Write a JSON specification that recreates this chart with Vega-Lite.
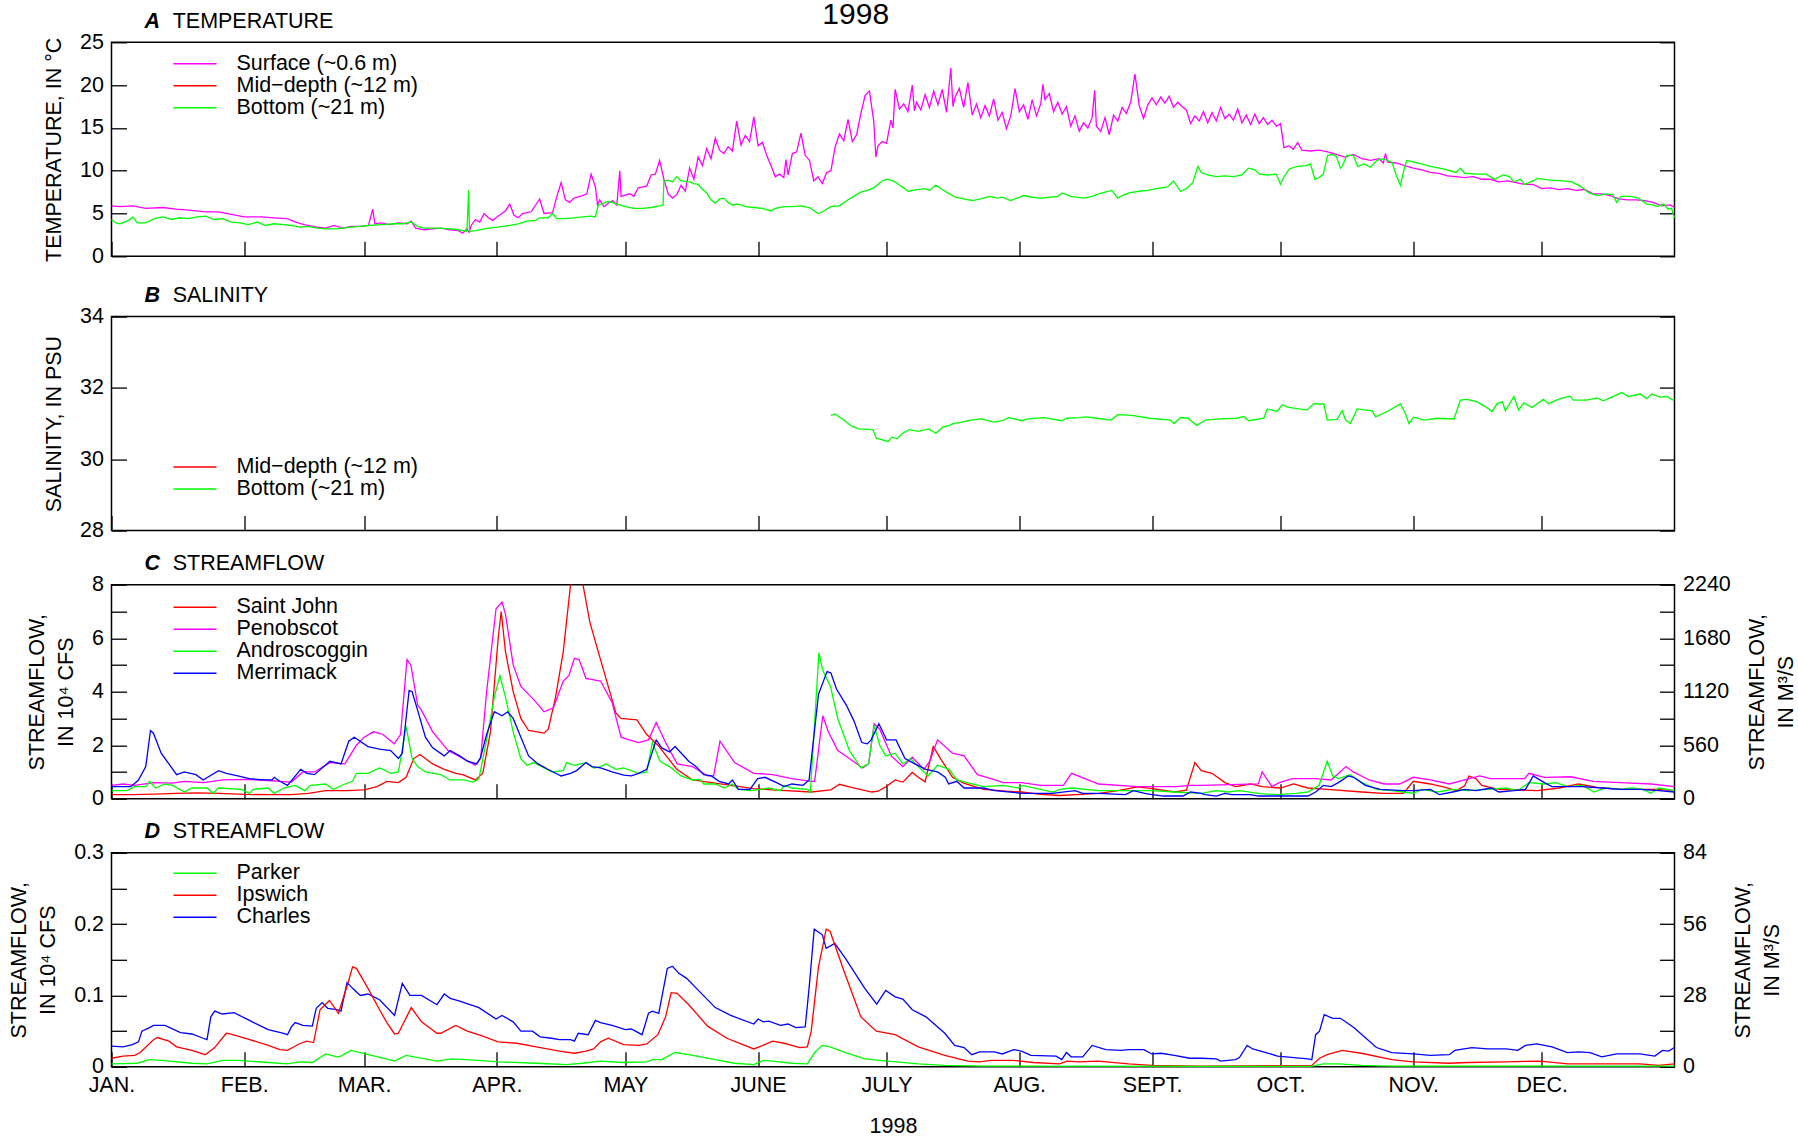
{
"$schema": "https://vega.github.io/schema/vega-lite/v6.json",
"autosize": {"type": "pad"},
"padding": {"left": 7.5, "top": -0.7, "right": 5, "bottom": 0},
"background": "white",
"title": {"text": "1998", "fontSize": 30, "fontWeight": "normal", "fontStyle": "normal", "anchor": "middle", "frame": "bounds", "offset": -19.6, "dx": -47, "subtitle": ""},
"spacing": 15.3,
"resolve": {"scale": {"color": "independent"}, "legend": {"color": "independent"}},
"datasets": {
"temp": [
{"s":"Surface (~0.6 m)","d":0,"v":5.9},{"s":"Surface (~0.6 m)","d":2,"v":5.8},{"s":"Surface (~0.6 m)","d":5,"v":5.9},{"s":"Surface (~0.6 m)","d":8,"v":5.6},{"s":"Surface (~0.6 m)","d":12,"v":5.7},{"s":"Surface (~0.6 m)","d":15,"v":5.5},{"s":"Surface (~0.6 m)","d":18,"v":5.4},{"s":"Surface (~0.6 m)","d":22,"v":5.2},{"s":"Surface (~0.6 m)","d":25,"v":5.2},{"s":"Surface (~0.6 m)","d":28,"v":4.9},{"s":"Surface (~0.6 m)","d":31,"v":4.6},{"s":"Surface (~0.6 m)","d":35,"v":4.6},{"s":"Surface (~0.6 m)","d":38,"v":4.5},{"s":"Surface (~0.6 m)","d":41,"v":4.4},{"s":"Surface (~0.6 m)","d":43,"v":4.0},{"s":"Surface (~0.6 m)","d":45,"v":3.7},{"s":"Surface (~0.6 m)","d":48,"v":3.4},{"s":"Surface (~0.6 m)","d":50,"v":3.3},{"s":"Surface (~0.6 m)","d":52,"v":3.6},{"s":"Surface (~0.6 m)","d":54,"v":3.3},{"s":"Surface (~0.6 m)","d":56,"v":3.5},{"s":"Surface (~0.6 m)","d":58,"v":3.5},{"s":"Surface (~0.6 m)","d":60,"v":3.6},{"s":"Surface (~0.6 m)","d":61,"v":5.5},{"s":"Surface (~0.6 m)","d":61.5,"v":3.8},{"s":"Surface (~0.6 m)","d":63,"v":3.9},{"s":"Surface (~0.6 m)","d":65,"v":3.7},{"s":"Surface (~0.6 m)","d":67,"v":3.9},{"s":"Surface (~0.6 m)","d":69,"v":3.8},{"s":"Surface (~0.6 m)","d":70,"v":4.1},{"s":"Surface (~0.6 m)","d":71,"v":3.3},{"s":"Surface (~0.6 m)","d":73,"v":3.1},{"s":"Surface (~0.6 m)","d":75,"v":3.2},{"s":"Surface (~0.6 m)","d":77,"v":3.3},{"s":"Surface (~0.6 m)","d":79,"v":3.1},{"s":"Surface (~0.6 m)","d":81,"v":3.0},{"s":"Surface (~0.6 m)","d":82,"v":2.7},{"s":"Surface (~0.6 m)","d":83,"v":3.2},{"s":"Surface (~0.6 m)","d":83.5,"v":2.8},{"s":"Surface (~0.6 m)","d":84,"v":3.6},{"s":"Surface (~0.6 m)","d":85,"v":4.3},{"s":"Surface (~0.6 m)","d":86,"v":4.0},{"s":"Surface (~0.6 m)","d":87,"v":5.0},{"s":"Surface (~0.6 m)","d":88,"v":4.5},{"s":"Surface (~0.6 m)","d":89,"v":4.2},{"s":"Surface (~0.6 m)","d":90,"v":4.6},{"s":"Surface (~0.6 m)","d":92,"v":5.3},{"s":"Surface (~0.6 m)","d":93,"v":6.1},{"s":"Surface (~0.6 m)","d":94,"v":4.8},{"s":"Surface (~0.6 m)","d":95,"v":4.5},{"s":"Surface (~0.6 m)","d":96,"v":5.0},{"s":"Surface (~0.6 m)","d":98,"v":5.2},{"s":"Surface (~0.6 m)","d":100,"v":6.7},{"s":"Surface (~0.6 m)","d":101,"v":5.0},{"s":"Surface (~0.6 m)","d":103,"v":5.1},{"s":"Surface (~0.6 m)","d":104,"v":7.0},{"s":"Surface (~0.6 m)","d":105,"v":8.6},{"s":"Surface (~0.6 m)","d":106,"v":6.6},{"s":"Surface (~0.6 m)","d":107,"v":6.3},{"s":"Surface (~0.6 m)","d":108,"v":6.8},{"s":"Surface (~0.6 m)","d":110,"v":7.1},{"s":"Surface (~0.6 m)","d":111,"v":7.3},{"s":"Surface (~0.6 m)","d":112,"v":9.6},{"s":"Surface (~0.6 m)","d":113,"v":8.1},{"s":"Surface (~0.6 m)","d":113.5,"v":6.0},{"s":"Surface (~0.6 m)","d":114,"v":6.6},{"s":"Surface (~0.6 m)","d":115,"v":5.8},{"s":"Surface (~0.6 m)","d":116,"v":6.2},{"s":"Surface (~0.6 m)","d":117,"v":6.5},{"s":"Surface (~0.6 m)","d":118,"v":6.0},{"s":"Surface (~0.6 m)","d":118.7,"v":10.0},{"s":"Surface (~0.6 m)","d":119,"v":7.0},{"s":"Surface (~0.6 m)","d":121,"v":7.3},{"s":"Surface (~0.6 m)","d":122,"v":7.0},{"s":"Surface (~0.6 m)","d":123,"v":8.0},{"s":"Surface (~0.6 m)","d":125,"v":8.2},{"s":"Surface (~0.6 m)","d":126,"v":9.5},{"s":"Surface (~0.6 m)","d":127,"v":9.6},{"s":"Surface (~0.6 m)","d":128,"v":11.2},{"s":"Surface (~0.6 m)","d":129,"v":9.0},{"s":"Surface (~0.6 m)","d":130,"v":7.3},{"s":"Surface (~0.6 m)","d":131,"v":6.8},{"s":"Surface (~0.6 m)","d":132,"v":7.2},{"s":"Surface (~0.6 m)","d":133,"v":8.3},{"s":"Surface (~0.6 m)","d":134,"v":7.6},{"s":"Surface (~0.6 m)","d":135,"v":10.3},{"s":"Surface (~0.6 m)","d":136,"v":9.0},{"s":"Surface (~0.6 m)","d":137,"v":11.6},{"s":"Surface (~0.6 m)","d":138,"v":10.6},{"s":"Surface (~0.6 m)","d":139,"v":12.6},{"s":"Surface (~0.6 m)","d":140,"v":11.4},{"s":"Surface (~0.6 m)","d":141,"v":13.8},{"s":"Surface (~0.6 m)","d":142,"v":12.4},{"s":"Surface (~0.6 m)","d":143,"v":12.0},{"s":"Surface (~0.6 m)","d":144,"v":12.8},{"s":"Surface (~0.6 m)","d":145,"v":12.3},{"s":"Surface (~0.6 m)","d":146,"v":15.8},{"s":"Surface (~0.6 m)","d":147,"v":13.0},{"s":"Surface (~0.6 m)","d":148,"v":14.1},{"s":"Surface (~0.6 m)","d":149,"v":13.4},{"s":"Surface (~0.6 m)","d":150,"v":16.3},{"s":"Surface (~0.6 m)","d":151,"v":12.9},{"s":"Surface (~0.6 m)","d":152,"v":13.3},{"s":"Surface (~0.6 m)","d":153,"v":11.8},{"s":"Surface (~0.6 m)","d":154,"v":10.6},{"s":"Surface (~0.6 m)","d":155,"v":9.3},{"s":"Surface (~0.6 m)","d":156,"v":9.6},{"s":"Surface (~0.6 m)","d":157,"v":9.2},{"s":"Surface (~0.6 m)","d":157.5,"v":11.3},{"s":"Surface (~0.6 m)","d":158,"v":9.5},{"s":"Surface (~0.6 m)","d":159,"v":12.0},{"s":"Surface (~0.6 m)","d":160,"v":12.2},{"s":"Surface (~0.6 m)","d":161,"v":14.4},{"s":"Surface (~0.6 m)","d":162,"v":11.8},{"s":"Surface (~0.6 m)","d":163,"v":11.2},{"s":"Surface (~0.6 m)","d":164,"v":8.8},{"s":"Surface (~0.6 m)","d":165,"v":9.3},{"s":"Surface (~0.6 m)","d":166,"v":8.5},{"s":"Surface (~0.6 m)","d":167,"v":9.8},{"s":"Surface (~0.6 m)","d":168,"v":10.0},{"s":"Surface (~0.6 m)","d":169,"v":12.8},{"s":"Surface (~0.6 m)","d":170,"v":14.3},{"s":"Surface (~0.6 m)","d":171,"v":13.5},{"s":"Surface (~0.6 m)","d":172,"v":16.0},{"s":"Surface (~0.6 m)","d":173,"v":13.4},{"s":"Surface (~0.6 m)","d":174,"v":14.2},{"s":"Surface (~0.6 m)","d":175,"v":16.7},{"s":"Surface (~0.6 m)","d":176,"v":18.8},{"s":"Surface (~0.6 m)","d":177,"v":19.3},{"s":"Surface (~0.6 m)","d":178,"v":15.8},{"s":"Surface (~0.6 m)","d":178.5,"v":11.6},{"s":"Surface (~0.6 m)","d":179,"v":12.9},{"s":"Surface (~0.6 m)","d":180,"v":13.4},{"s":"Surface (~0.6 m)","d":181,"v":13.2},{"s":"Surface (~0.6 m)","d":182,"v":15.9},{"s":"Surface (~0.6 m)","d":182.5,"v":15.0},{"s":"Surface (~0.6 m)","d":183,"v":19.5},{"s":"Surface (~0.6 m)","d":184,"v":17.2},{"s":"Surface (~0.6 m)","d":185,"v":17.8},{"s":"Surface (~0.6 m)","d":186,"v":16.9},{"s":"Surface (~0.6 m)","d":187,"v":20.0},{"s":"Surface (~0.6 m)","d":187.5,"v":17.0},{"s":"Surface (~0.6 m)","d":188,"v":18.0},{"s":"Surface (~0.6 m)","d":189,"v":17.1},{"s":"Surface (~0.6 m)","d":190,"v":18.9},{"s":"Surface (~0.6 m)","d":191,"v":17.4},{"s":"Surface (~0.6 m)","d":192,"v":19.3},{"s":"Surface (~0.6 m)","d":193,"v":17.7},{"s":"Surface (~0.6 m)","d":194,"v":19.5},{"s":"Surface (~0.6 m)","d":195,"v":16.8},{"s":"Surface (~0.6 m)","d":196,"v":22.0},{"s":"Surface (~0.6 m)","d":196.5,"v":17.5},{"s":"Surface (~0.6 m)","d":197,"v":18.6},{"s":"Surface (~0.6 m)","d":198,"v":19.6},{"s":"Surface (~0.6 m)","d":199,"v":17.4},{"s":"Surface (~0.6 m)","d":200,"v":20.3},{"s":"Surface (~0.6 m)","d":201,"v":16.5},{"s":"Surface (~0.6 m)","d":202,"v":17.8},{"s":"Surface (~0.6 m)","d":203,"v":16.2},{"s":"Surface (~0.6 m)","d":204,"v":17.6},{"s":"Surface (~0.6 m)","d":205,"v":16.4},{"s":"Surface (~0.6 m)","d":206,"v":18.4},{"s":"Surface (~0.6 m)","d":207,"v":15.9},{"s":"Surface (~0.6 m)","d":208,"v":16.8},{"s":"Surface (~0.6 m)","d":209,"v":14.9},{"s":"Surface (~0.6 m)","d":210,"v":16.4},{"s":"Surface (~0.6 m)","d":211,"v":19.6},{"s":"Surface (~0.6 m)","d":212,"v":16.9},{"s":"Surface (~0.6 m)","d":213,"v":17.7},{"s":"Surface (~0.6 m)","d":214,"v":16.0},{"s":"Surface (~0.6 m)","d":215,"v":18.3},{"s":"Surface (~0.6 m)","d":216,"v":16.4},{"s":"Surface (~0.6 m)","d":217,"v":17.8},{"s":"Surface (~0.6 m)","d":217.5,"v":20.1},{"s":"Surface (~0.6 m)","d":218,"v":18.3},{"s":"Surface (~0.6 m)","d":219,"v":19.0},{"s":"Surface (~0.6 m)","d":220,"v":16.9},{"s":"Surface (~0.6 m)","d":221,"v":18.0},{"s":"Surface (~0.6 m)","d":222,"v":16.6},{"s":"Surface (~0.6 m)","d":223,"v":17.5},{"s":"Surface (~0.6 m)","d":224,"v":15.2},{"s":"Surface (~0.6 m)","d":225,"v":16.4},{"s":"Surface (~0.6 m)","d":226,"v":14.6},{"s":"Surface (~0.6 m)","d":227,"v":15.6},{"s":"Surface (~0.6 m)","d":228,"v":15.0},{"s":"Surface (~0.6 m)","d":229,"v":16.2},{"s":"Surface (~0.6 m)","d":229.6,"v":19.4},{"s":"Surface (~0.6 m)","d":230,"v":15.2},{"s":"Surface (~0.6 m)","d":231,"v":14.6},{"s":"Surface (~0.6 m)","d":232,"v":16.2},{"s":"Surface (~0.6 m)","d":233,"v":14.2},{"s":"Surface (~0.6 m)","d":234,"v":16.5},{"s":"Surface (~0.6 m)","d":235,"v":15.8},{"s":"Surface (~0.6 m)","d":236,"v":17.4},{"s":"Surface (~0.6 m)","d":237,"v":16.7},{"s":"Surface (~0.6 m)","d":238,"v":18.0},{"s":"Surface (~0.6 m)","d":239,"v":21.3},{"s":"Surface (~0.6 m)","d":240,"v":17.6},{"s":"Surface (~0.6 m)","d":241,"v":16.1},{"s":"Surface (~0.6 m)","d":242,"v":17.7},{"s":"Surface (~0.6 m)","d":243,"v":18.5},{"s":"Surface (~0.6 m)","d":244,"v":17.7},{"s":"Surface (~0.6 m)","d":245,"v":18.6},{"s":"Surface (~0.6 m)","d":246,"v":17.9},{"s":"Surface (~0.6 m)","d":247,"v":18.7},{"s":"Surface (~0.6 m)","d":248,"v":17.4},{"s":"Surface (~0.6 m)","d":249,"v":18.0},{"s":"Surface (~0.6 m)","d":250,"v":17.5},{"s":"Surface (~0.6 m)","d":251,"v":17.1},{"s":"Surface (~0.6 m)","d":252,"v":15.5},{"s":"Surface (~0.6 m)","d":253,"v":16.4},{"s":"Surface (~0.6 m)","d":254,"v":15.8},{"s":"Surface (~0.6 m)","d":255,"v":16.9},{"s":"Surface (~0.6 m)","d":256,"v":15.6},{"s":"Surface (~0.6 m)","d":257,"v":16.8},{"s":"Surface (~0.6 m)","d":258,"v":15.8},{"s":"Surface (~0.6 m)","d":259,"v":17.4},{"s":"Surface (~0.6 m)","d":260,"v":16.1},{"s":"Surface (~0.6 m)","d":261,"v":16.6},{"s":"Surface (~0.6 m)","d":262,"v":15.9},{"s":"Surface (~0.6 m)","d":263,"v":17.2},{"s":"Surface (~0.6 m)","d":264,"v":15.6},{"s":"Surface (~0.6 m)","d":265,"v":16.5},{"s":"Surface (~0.6 m)","d":266,"v":15.4},{"s":"Surface (~0.6 m)","d":267,"v":16.6},{"s":"Surface (~0.6 m)","d":268,"v":15.5},{"s":"Surface (~0.6 m)","d":269,"v":16.2},{"s":"Surface (~0.6 m)","d":270,"v":15.4},{"s":"Surface (~0.6 m)","d":271,"v":15.9},{"s":"Surface (~0.6 m)","d":272,"v":15.2},{"s":"Surface (~0.6 m)","d":273,"v":15.5},{"s":"Surface (~0.6 m)","d":273.8,"v":12.7},{"s":"Surface (~0.6 m)","d":275,"v":12.9},{"s":"Surface (~0.6 m)","d":276,"v":12.5},{"s":"Surface (~0.6 m)","d":277,"v":13.3},{"s":"Surface (~0.6 m)","d":278,"v":12.4},{"s":"Surface (~0.6 m)","d":280,"v":12.3},{"s":"Surface (~0.6 m)","d":282,"v":12.4},{"s":"Surface (~0.6 m)","d":284,"v":12.2},{"s":"Surface (~0.6 m)","d":286,"v":11.9},{"s":"Surface (~0.6 m)","d":288,"v":11.6},{"s":"Surface (~0.6 m)","d":290,"v":11.9},{"s":"Surface (~0.6 m)","d":292,"v":11.4},{"s":"Surface (~0.6 m)","d":294,"v":11.2},{"s":"Surface (~0.6 m)","d":296,"v":11.4},{"s":"Surface (~0.6 m)","d":297,"v":10.9},{"s":"Surface (~0.6 m)","d":297.5,"v":12.0},{"s":"Surface (~0.6 m)","d":298,"v":11.0},{"s":"Surface (~0.6 m)","d":300,"v":10.9},{"s":"Surface (~0.6 m)","d":302,"v":10.6},{"s":"Surface (~0.6 m)","d":304,"v":10.3},{"s":"Surface (~0.6 m)","d":306,"v":10.1},{"s":"Surface (~0.6 m)","d":308,"v":9.8},{"s":"Surface (~0.6 m)","d":310,"v":9.7},{"s":"Surface (~0.6 m)","d":312,"v":9.4},{"s":"Surface (~0.6 m)","d":314,"v":9.3},{"s":"Surface (~0.6 m)","d":316,"v":9.2},{"s":"Surface (~0.6 m)","d":318,"v":9.3},{"s":"Surface (~0.6 m)","d":320,"v":9.0},{"s":"Surface (~0.6 m)","d":322,"v":9.0},{"s":"Surface (~0.6 m)","d":324,"v":8.7},{"s":"Surface (~0.6 m)","d":326,"v":8.8},{"s":"Surface (~0.6 m)","d":328,"v":8.6},{"s":"Surface (~0.6 m)","d":330,"v":8.4},{"s":"Surface (~0.6 m)","d":332,"v":8.4},{"s":"Surface (~0.6 m)","d":334,"v":7.9},{"s":"Surface (~0.6 m)","d":336,"v":8.0},{"s":"Surface (~0.6 m)","d":338,"v":7.8},{"s":"Surface (~0.6 m)","d":340,"v":7.9},{"s":"Surface (~0.6 m)","d":342,"v":7.7},{"s":"Surface (~0.6 m)","d":344,"v":7.8},{"s":"Surface (~0.6 m)","d":346,"v":7.3},{"s":"Surface (~0.6 m)","d":348,"v":7.3},{"s":"Surface (~0.6 m)","d":350,"v":7.1},{"s":"Surface (~0.6 m)","d":352,"v":6.7},{"s":"Surface (~0.6 m)","d":354,"v":6.6},{"s":"Surface (~0.6 m)","d":356,"v":6.6},{"s":"Surface (~0.6 m)","d":358,"v":6.5},{"s":"Surface (~0.6 m)","d":360,"v":6.3},{"s":"Surface (~0.6 m)","d":362,"v":5.9},{"s":"Surface (~0.6 m)","d":364,"v":6.0},{"s":"Surface (~0.6 m)","d":365,"v":5.7},
{"s":"Bottom (~21 m)","d":0,"v":4.3},{"s":"Bottom (~21 m)","d":1,"v":3.9},{"s":"Bottom (~21 m)","d":2,"v":3.8},{"s":"Bottom (~21 m)","d":4,"v":4.2},{"s":"Bottom (~21 m)","d":5,"v":4.6},{"s":"Bottom (~21 m)","d":6,"v":3.9},{"s":"Bottom (~21 m)","d":8,"v":3.9},{"s":"Bottom (~21 m)","d":10,"v":4.4},{"s":"Bottom (~21 m)","d":12,"v":4.6},{"s":"Bottom (~21 m)","d":14,"v":4.3},{"s":"Bottom (~21 m)","d":16,"v":4.5},{"s":"Bottom (~21 m)","d":18,"v":4.4},{"s":"Bottom (~21 m)","d":20,"v":4.6},{"s":"Bottom (~21 m)","d":22,"v":4.7},{"s":"Bottom (~21 m)","d":24,"v":4.3},{"s":"Bottom (~21 m)","d":26,"v":4.4},{"s":"Bottom (~21 m)","d":28,"v":4.0},{"s":"Bottom (~21 m)","d":30,"v":3.9},{"s":"Bottom (~21 m)","d":32,"v":3.7},{"s":"Bottom (~21 m)","d":34,"v":4.0},{"s":"Bottom (~21 m)","d":36,"v":3.6},{"s":"Bottom (~21 m)","d":38,"v":3.8},{"s":"Bottom (~21 m)","d":40,"v":3.7},{"s":"Bottom (~21 m)","d":42,"v":3.6},{"s":"Bottom (~21 m)","d":44,"v":3.4},{"s":"Bottom (~21 m)","d":46,"v":3.5},{"s":"Bottom (~21 m)","d":48,"v":3.3},{"s":"Bottom (~21 m)","d":50,"v":3.2},{"s":"Bottom (~21 m)","d":52,"v":3.2},{"s":"Bottom (~21 m)","d":54,"v":3.3},{"s":"Bottom (~21 m)","d":56,"v":3.4},{"s":"Bottom (~21 m)","d":58,"v":3.5},{"s":"Bottom (~21 m)","d":60,"v":3.6},{"s":"Bottom (~21 m)","d":63,"v":3.7},{"s":"Bottom (~21 m)","d":66,"v":3.8},{"s":"Bottom (~21 m)","d":68,"v":3.8},{"s":"Bottom (~21 m)","d":70,"v":4.0},{"s":"Bottom (~21 m)","d":71.5,"v":3.5},{"s":"Bottom (~21 m)","d":73,"v":3.3},{"s":"Bottom (~21 m)","d":76,"v":3.3},{"s":"Bottom (~21 m)","d":79,"v":3.2},{"s":"Bottom (~21 m)","d":81,"v":3.1},{"s":"Bottom (~21 m)","d":83,"v":2.9},{"s":"Bottom (~21 m)","d":83.4,"v":7.7},{"s":"Bottom (~21 m)","d":83.6,"v":2.9},{"s":"Bottom (~21 m)","d":85,"v":3.0},{"s":"Bottom (~21 m)","d":88,"v":3.3},{"s":"Bottom (~21 m)","d":90,"v":3.4},{"s":"Bottom (~21 m)","d":93,"v":3.6},{"s":"Bottom (~21 m)","d":95,"v":3.8},{"s":"Bottom (~21 m)","d":97,"v":4.1},{"s":"Bottom (~21 m)","d":99,"v":4.2},{"s":"Bottom (~21 m)","d":100,"v":4.5},{"s":"Bottom (~21 m)","d":102,"v":4.5},{"s":"Bottom (~21 m)","d":103,"v":5.0},{"s":"Bottom (~21 m)","d":104,"v":4.4},{"s":"Bottom (~21 m)","d":106,"v":4.4},{"s":"Bottom (~21 m)","d":108,"v":4.5},{"s":"Bottom (~21 m)","d":110,"v":4.6},{"s":"Bottom (~21 m)","d":112,"v":4.7},{"s":"Bottom (~21 m)","d":113,"v":4.6},{"s":"Bottom (~21 m)","d":113.7,"v":6.0},{"s":"Bottom (~21 m)","d":115,"v":6.2},{"s":"Bottom (~21 m)","d":116,"v":6.4},{"s":"Bottom (~21 m)","d":117,"v":6.3},{"s":"Bottom (~21 m)","d":118,"v":6.1},{"s":"Bottom (~21 m)","d":120,"v":5.8},{"s":"Bottom (~21 m)","d":122,"v":5.6},{"s":"Bottom (~21 m)","d":124,"v":5.6},{"s":"Bottom (~21 m)","d":126,"v":5.7},{"s":"Bottom (~21 m)","d":128,"v":5.9},{"s":"Bottom (~21 m)","d":128.8,"v":6.0},{"s":"Bottom (~21 m)","d":129,"v":8.8},{"s":"Bottom (~21 m)","d":130,"v":8.9},{"s":"Bottom (~21 m)","d":131,"v":8.7},{"s":"Bottom (~21 m)","d":132,"v":9.3},{"s":"Bottom (~21 m)","d":133,"v":8.8},{"s":"Bottom (~21 m)","d":135,"v":8.7},{"s":"Bottom (~21 m)","d":136,"v":8.5},{"s":"Bottom (~21 m)","d":137,"v":8.4},{"s":"Bottom (~21 m)","d":138,"v":7.8},{"s":"Bottom (~21 m)","d":139,"v":7.4},{"s":"Bottom (~21 m)","d":140,"v":6.6},{"s":"Bottom (~21 m)","d":141,"v":6.2},{"s":"Bottom (~21 m)","d":142,"v":6.7},{"s":"Bottom (~21 m)","d":143,"v":6.8},{"s":"Bottom (~21 m)","d":144,"v":6.3},{"s":"Bottom (~21 m)","d":145,"v":6.0},{"s":"Bottom (~21 m)","d":146,"v":6.1},{"s":"Bottom (~21 m)","d":147,"v":6.0},{"s":"Bottom (~21 m)","d":148,"v":5.8},{"s":"Bottom (~21 m)","d":150,"v":5.7},{"s":"Bottom (~21 m)","d":152,"v":5.6},{"s":"Bottom (~21 m)","d":154,"v":5.3},{"s":"Bottom (~21 m)","d":155,"v":5.6},{"s":"Bottom (~21 m)","d":157,"v":5.8},{"s":"Bottom (~21 m)","d":159,"v":5.8},{"s":"Bottom (~21 m)","d":161,"v":5.9},{"s":"Bottom (~21 m)","d":163,"v":5.7},{"s":"Bottom (~21 m)","d":165,"v":5.0},{"s":"Bottom (~21 m)","d":166,"v":5.2},{"s":"Bottom (~21 m)","d":168,"v":5.8},{"s":"Bottom (~21 m)","d":170,"v":5.9},{"s":"Bottom (~21 m)","d":172,"v":6.6},{"s":"Bottom (~21 m)","d":174,"v":7.2},{"s":"Bottom (~21 m)","d":175,"v":7.5},{"s":"Bottom (~21 m)","d":177,"v":7.8},{"s":"Bottom (~21 m)","d":178,"v":8.0},{"s":"Bottom (~21 m)","d":180,"v":8.8},{"s":"Bottom (~21 m)","d":181,"v":9.0},{"s":"Bottom (~21 m)","d":182,"v":8.9},{"s":"Bottom (~21 m)","d":183,"v":8.7},{"s":"Bottom (~21 m)","d":184,"v":8.3},{"s":"Bottom (~21 m)","d":185,"v":8.0},{"s":"Bottom (~21 m)","d":186,"v":7.6},{"s":"Bottom (~21 m)","d":188,"v":7.8},{"s":"Bottom (~21 m)","d":190,"v":7.9},{"s":"Bottom (~21 m)","d":191,"v":7.7},{"s":"Bottom (~21 m)","d":192.5,"v":8.3},{"s":"Bottom (~21 m)","d":194,"v":7.8},{"s":"Bottom (~21 m)","d":195,"v":7.5},{"s":"Bottom (~21 m)","d":197,"v":6.9},{"s":"Bottom (~21 m)","d":199,"v":6.7},{"s":"Bottom (~21 m)","d":201,"v":6.5},{"s":"Bottom (~21 m)","d":203,"v":6.7},{"s":"Bottom (~21 m)","d":205,"v":7.0},{"s":"Bottom (~21 m)","d":207,"v":6.8},{"s":"Bottom (~21 m)","d":208,"v":6.9},{"s":"Bottom (~21 m)","d":210,"v":6.5},{"s":"Bottom (~21 m)","d":212,"v":6.9},{"s":"Bottom (~21 m)","d":213,"v":7.1},{"s":"Bottom (~21 m)","d":215,"v":6.9},{"s":"Bottom (~21 m)","d":217,"v":6.8},{"s":"Bottom (~21 m)","d":219,"v":6.9},{"s":"Bottom (~21 m)","d":221,"v":7.0},{"s":"Bottom (~21 m)","d":222,"v":7.4},{"s":"Bottom (~21 m)","d":224,"v":7.0},{"s":"Bottom (~21 m)","d":227,"v":6.8},{"s":"Bottom (~21 m)","d":229,"v":7.0},{"s":"Bottom (~21 m)","d":230.5,"v":7.3},{"s":"Bottom (~21 m)","d":232,"v":7.5},{"s":"Bottom (~21 m)","d":233.6,"v":7.7},{"s":"Bottom (~21 m)","d":235,"v":6.8},{"s":"Bottom (~21 m)","d":236,"v":7.1},{"s":"Bottom (~21 m)","d":237.6,"v":7.4},{"s":"Bottom (~21 m)","d":240,"v":7.6},{"s":"Bottom (~21 m)","d":242,"v":7.7},{"s":"Bottom (~21 m)","d":244,"v":7.9},{"s":"Bottom (~21 m)","d":246.6,"v":8.1},{"s":"Bottom (~21 m)","d":248,"v":8.8},{"s":"Bottom (~21 m)","d":249.6,"v":7.6},{"s":"Bottom (~21 m)","d":251,"v":7.9},{"s":"Bottom (~21 m)","d":252.5,"v":8.6},{"s":"Bottom (~21 m)","d":253.7,"v":10.5},{"s":"Bottom (~21 m)","d":254.5,"v":9.8},{"s":"Bottom (~21 m)","d":256,"v":9.5},{"s":"Bottom (~21 m)","d":258,"v":9.3},{"s":"Bottom (~21 m)","d":260,"v":9.4},{"s":"Bottom (~21 m)","d":262,"v":9.3},{"s":"Bottom (~21 m)","d":264,"v":9.5},{"s":"Bottom (~21 m)","d":265.5,"v":10.3},{"s":"Bottom (~21 m)","d":267,"v":10.1},{"s":"Bottom (~21 m)","d":268,"v":9.6},{"s":"Bottom (~21 m)","d":270,"v":9.5},{"s":"Bottom (~21 m)","d":272,"v":9.6},{"s":"Bottom (~21 m)","d":273,"v":8.4},{"s":"Bottom (~21 m)","d":273.5,"v":9.0},{"s":"Bottom (~21 m)","d":275,"v":10.2},{"s":"Bottom (~21 m)","d":277,"v":10.5},{"s":"Bottom (~21 m)","d":279,"v":10.6},{"s":"Bottom (~21 m)","d":280,"v":10.8},{"s":"Bottom (~21 m)","d":281,"v":9.0},{"s":"Bottom (~21 m)","d":282,"v":9.2},{"s":"Bottom (~21 m)","d":283,"v":9.6},{"s":"Bottom (~21 m)","d":284,"v":11.8},{"s":"Bottom (~21 m)","d":285,"v":11.9},{"s":"Bottom (~21 m)","d":286,"v":11.7},{"s":"Bottom (~21 m)","d":287,"v":10.3},{"s":"Bottom (~21 m)","d":287.5,"v":10.6},{"s":"Bottom (~21 m)","d":288.5,"v":11.8},{"s":"Bottom (~21 m)","d":290,"v":11.8},{"s":"Bottom (~21 m)","d":291,"v":10.5},{"s":"Bottom (~21 m)","d":292.5,"v":10.8},{"s":"Bottom (~21 m)","d":294,"v":10.4},{"s":"Bottom (~21 m)","d":295.5,"v":11.2},{"s":"Bottom (~21 m)","d":297,"v":11.4},{"s":"Bottom (~21 m)","d":299,"v":11.0},{"s":"Bottom (~21 m)","d":300,"v":9.5},{"s":"Bottom (~21 m)","d":301,"v":8.3},{"s":"Bottom (~21 m)","d":302,"v":10.5},{"s":"Bottom (~21 m)","d":302.5,"v":11.2},{"s":"Bottom (~21 m)","d":305,"v":10.9},{"s":"Bottom (~21 m)","d":308,"v":10.5},{"s":"Bottom (~21 m)","d":311,"v":10.2},{"s":"Bottom (~21 m)","d":314,"v":9.8},{"s":"Bottom (~21 m)","d":315,"v":10.3},{"s":"Bottom (~21 m)","d":316,"v":9.7},{"s":"Bottom (~21 m)","d":319,"v":9.6},{"s":"Bottom (~21 m)","d":321,"v":9.6},{"s":"Bottom (~21 m)","d":323,"v":9.0},{"s":"Bottom (~21 m)","d":325,"v":9.5},{"s":"Bottom (~21 m)","d":326.5,"v":9.3},{"s":"Bottom (~21 m)","d":327.5,"v":8.7},{"s":"Bottom (~21 m)","d":329,"v":9.0},{"s":"Bottom (~21 m)","d":330,"v":8.4},{"s":"Bottom (~21 m)","d":332,"v":8.8},{"s":"Bottom (~21 m)","d":333,"v":9.1},{"s":"Bottom (~21 m)","d":336,"v":8.9},{"s":"Bottom (~21 m)","d":339,"v":8.8},{"s":"Bottom (~21 m)","d":341,"v":8.7},{"s":"Bottom (~21 m)","d":343,"v":8.2},{"s":"Bottom (~21 m)","d":345,"v":7.4},{"s":"Bottom (~21 m)","d":347,"v":7.1},{"s":"Bottom (~21 m)","d":349,"v":7.3},{"s":"Bottom (~21 m)","d":350.6,"v":7.2},{"s":"Bottom (~21 m)","d":351.5,"v":6.3},{"s":"Bottom (~21 m)","d":352.5,"v":7.0},{"s":"Bottom (~21 m)","d":355,"v":7.0},{"s":"Bottom (~21 m)","d":356.5,"v":6.8},{"s":"Bottom (~21 m)","d":358.6,"v":6.1},{"s":"Bottom (~21 m)","d":360,"v":6.0},{"s":"Bottom (~21 m)","d":361,"v":5.8},{"s":"Bottom (~21 m)","d":362.5,"v":6.1},{"s":"Bottom (~21 m)","d":363.5,"v":5.5},{"s":"Bottom (~21 m)","d":364.3,"v":5.6},{"s":"Bottom (~21 m)","d":365,"v":4.5}
],
"sal": [
{"s":"Bottom (~21 m)","d":168,"v":31.23},{"s":"Bottom (~21 m)","d":169,"v":31.27},{"s":"Bottom (~21 m)","d":170.4,"v":31.15},{"s":"Bottom (~21 m)","d":173,"v":30.92},{"s":"Bottom (~21 m)","d":174.5,"v":30.85},{"s":"Bottom (~21 m)","d":177.8,"v":30.83},{"s":"Bottom (~21 m)","d":178.6,"v":30.59},{"s":"Bottom (~21 m)","d":181.4,"v":30.5},{"s":"Bottom (~21 m)","d":182.2,"v":30.62},{"s":"Bottom (~21 m)","d":183.5,"v":30.58},{"s":"Bottom (~21 m)","d":184.7,"v":30.73},{"s":"Bottom (~21 m)","d":186.3,"v":30.83},{"s":"Bottom (~21 m)","d":188.4,"v":30.78},{"s":"Bottom (~21 m)","d":190.8,"v":30.85},{"s":"Bottom (~21 m)","d":192.5,"v":30.73},{"s":"Bottom (~21 m)","d":194.1,"v":30.9},{"s":"Bottom (~21 m)","d":195.7,"v":30.95},{"s":"Bottom (~21 m)","d":196.5,"v":31.0},{"s":"Bottom (~21 m)","d":198.6,"v":31.04},{"s":"Bottom (~21 m)","d":200.6,"v":31.1},{"s":"Bottom (~21 m)","d":203.1,"v":31.13},{"s":"Bottom (~21 m)","d":206,"v":31.04},{"s":"Bottom (~21 m)","d":208,"v":31.08},{"s":"Bottom (~21 m)","d":209.6,"v":31.17},{"s":"Bottom (~21 m)","d":212.5,"v":31.08},{"s":"Bottom (~21 m)","d":214.1,"v":31.13},{"s":"Bottom (~21 m)","d":217.8,"v":31.17},{"s":"Bottom (~21 m)","d":221.9,"v":31.08},{"s":"Bottom (~21 m)","d":223.1,"v":31.15},{"s":"Bottom (~21 m)","d":226,"v":31.17},{"s":"Bottom (~21 m)","d":227.6,"v":31.19},{"s":"Bottom (~21 m)","d":230.1,"v":31.15},{"s":"Bottom (~21 m)","d":233.4,"v":31.1},{"s":"Bottom (~21 m)","d":235,"v":31.25},{"s":"Bottom (~21 m)","d":238.3,"v":31.23},{"s":"Bottom (~21 m)","d":242.4,"v":31.15},{"s":"Bottom (~21 m)","d":247.3,"v":31.1},{"s":"Bottom (~21 m)","d":248.1,"v":31.0},{"s":"Bottom (~21 m)","d":249.7,"v":31.17},{"s":"Bottom (~21 m)","d":251.4,"v":31.15},{"s":"Bottom (~21 m)","d":253.4,"v":30.95},{"s":"Bottom (~21 m)","d":255.5,"v":31.1},{"s":"Bottom (~21 m)","d":258.8,"v":31.13},{"s":"Bottom (~21 m)","d":262.8,"v":31.15},{"s":"Bottom (~21 m)","d":264.4,"v":31.2},{"s":"Bottom (~21 m)","d":265.6,"v":31.08},{"s":"Bottom (~21 m)","d":269.1,"v":31.15},{"s":"Bottom (~21 m)","d":269.9,"v":31.41},{"s":"Bottom (~21 m)","d":272.2,"v":31.34},{"s":"Bottom (~21 m)","d":273.4,"v":31.53},{"s":"Bottom (~21 m)","d":274.6,"v":31.46},{"s":"Bottom (~21 m)","d":279.2,"v":31.38},{"s":"Bottom (~21 m)","d":280.8,"v":31.56},{"s":"Bottom (~21 m)","d":283.1,"v":31.55},{"s":"Bottom (~21 m)","d":283.9,"v":31.1},{"s":"Bottom (~21 m)","d":286.2,"v":31.12},{"s":"Bottom (~21 m)","d":287.4,"v":31.36},{"s":"Bottom (~21 m)","d":288.2,"v":31.1},{"s":"Bottom (~21 m)","d":289.3,"v":31.0},{"s":"Bottom (~21 m)","d":290.9,"v":31.41},{"s":"Bottom (~21 m)","d":294.4,"v":31.36},{"s":"Bottom (~21 m)","d":295.2,"v":31.19},{"s":"Bottom (~21 m)","d":297.9,"v":31.34},{"s":"Bottom (~21 m)","d":301,"v":31.55},{"s":"Bottom (~21 m)","d":302.2,"v":31.27},{"s":"Bottom (~21 m)","d":303,"v":31.0},{"s":"Bottom (~21 m)","d":304.1,"v":31.18},{"s":"Bottom (~21 m)","d":306.5,"v":31.1},{"s":"Bottom (~21 m)","d":309.6,"v":31.15},{"s":"Bottom (~21 m)","d":313.5,"v":31.13},{"s":"Bottom (~21 m)","d":315,"v":31.66},{"s":"Bottom (~21 m)","d":316.6,"v":31.68},{"s":"Bottom (~21 m)","d":318.9,"v":31.61},{"s":"Bottom (~21 m)","d":320.9,"v":31.47},{"s":"Bottom (~21 m)","d":322.4,"v":31.34},{"s":"Bottom (~21 m)","d":323.6,"v":31.56},{"s":"Bottom (~21 m)","d":324.8,"v":31.61},{"s":"Bottom (~21 m)","d":325.5,"v":31.36},{"s":"Bottom (~21 m)","d":327.5,"v":31.76},{"s":"Bottom (~21 m)","d":328.6,"v":31.38},{"s":"Bottom (~21 m)","d":329.8,"v":31.58},{"s":"Bottom (~21 m)","d":331.7,"v":31.45},{"s":"Bottom (~21 m)","d":334.4,"v":31.68},{"s":"Bottom (~21 m)","d":335.6,"v":31.56},{"s":"Bottom (~21 m)","d":338.3,"v":31.7},{"s":"Bottom (~21 m)","d":340.6,"v":31.77},{"s":"Bottom (~21 m)","d":341.4,"v":31.66},{"s":"Bottom (~21 m)","d":344.5,"v":31.66},{"s":"Bottom (~21 m)","d":346.9,"v":31.72},{"s":"Bottom (~21 m)","d":348.4,"v":31.64},{"s":"Bottom (~21 m)","d":352.7,"v":31.87},{"s":"Bottom (~21 m)","d":354.2,"v":31.76},{"s":"Bottom (~21 m)","d":357,"v":31.83},{"s":"Bottom (~21 m)","d":358.5,"v":31.7},{"s":"Bottom (~21 m)","d":359.7,"v":31.83},{"s":"Bottom (~21 m)","d":361.6,"v":31.74},{"s":"Bottom (~21 m)","d":363.2,"v":31.76},{"s":"Bottom (~21 m)","d":364.7,"v":31.66}
],
"flowC": [
{"s":"Saint John","d":0,"v":0.15},{"s":"Saint John","d":5,"v":0.15},{"s":"Saint John","d":10,"v":0.17},{"s":"Saint John","d":15,"v":0.2},{"s":"Saint John","d":20,"v":0.22},{"s":"Saint John","d":25,"v":0.2},{"s":"Saint John","d":31,"v":0.16},{"s":"Saint John","d":37,"v":0.15},{"s":"Saint John","d":42,"v":0.15},{"s":"Saint John","d":46,"v":0.2},{"s":"Saint John","d":50,"v":0.3},{"s":"Saint John","d":55,"v":0.3},{"s":"Saint John","d":59,"v":0.33},{"s":"Saint John","d":62,"v":0.45},{"s":"Saint John","d":64.3,"v":0.65},{"s":"Saint John","d":67,"v":0.6},{"s":"Saint John","d":68.8,"v":0.8},{"s":"Saint John","d":70.6,"v":1.5},{"s":"Saint John","d":72,"v":1.65},{"s":"Saint John","d":73.3,"v":1.5},{"s":"Saint John","d":75,"v":1.3},{"s":"Saint John","d":77.7,"v":1.1},{"s":"Saint John","d":80.4,"v":0.95},{"s":"Saint John","d":82,"v":0.9},{"s":"Saint John","d":85,"v":0.7},{"s":"Saint John","d":86.7,"v":0.95},{"s":"Saint John","d":88.5,"v":2.5},{"s":"Saint John","d":90.3,"v":6.0},{"s":"Saint John","d":91,"v":7.0},{"s":"Saint John","d":92,"v":5.5},{"s":"Saint John","d":93.8,"v":4.0},{"s":"Saint John","d":95.6,"v":3.0},{"s":"Saint John","d":97.4,"v":2.55},{"s":"Saint John","d":101,"v":2.45},{"s":"Saint John","d":102,"v":2.6},{"s":"Saint John","d":103.7,"v":3.8},{"s":"Saint John","d":105.5,"v":5.5},{"s":"Saint John","d":107.2,"v":8.0},{"s":"Saint John","d":108.3,"v":9.2},{"s":"Saint John","d":109.2,"v":9.0},{"s":"Saint John","d":110.1,"v":8.0},{"s":"Saint John","d":111.7,"v":6.6},{"s":"Saint John","d":114.2,"v":5.2},{"s":"Saint John","d":116,"v":4.2},{"s":"Saint John","d":117.8,"v":3.2},{"s":"Saint John","d":119,"v":3.0},{"s":"Saint John","d":122.7,"v":2.95},{"s":"Saint John","d":125,"v":2.4},{"s":"Saint John","d":127.6,"v":2.0},{"s":"Saint John","d":132,"v":1.1},{"s":"Saint John","d":135.7,"v":0.7},{"s":"Saint John","d":141,"v":0.58},{"s":"Saint John","d":145.5,"v":0.48},{"s":"Saint John","d":150,"v":0.38},{"s":"Saint John","d":154.4,"v":0.33},{"s":"Saint John","d":163.4,"v":0.25},{"s":"Saint John","d":168,"v":0.33},{"s":"Saint John","d":170,"v":0.54},{"s":"Saint John","d":173,"v":0.41},{"s":"Saint John","d":177.6,"v":0.25},{"s":"Saint John","d":179,"v":0.28},{"s":"Saint John","d":180.8,"v":0.44},{"s":"Saint John","d":183,"v":0.7},{"s":"Saint John","d":184.8,"v":0.62},{"s":"Saint John","d":187,"v":0.98},{"s":"Saint John","d":188.4,"v":0.8},{"s":"Saint John","d":190,"v":0.63},{"s":"Saint John","d":191.9,"v":1.95},{"s":"Saint John","d":193.7,"v":1.47},{"s":"Saint John","d":196.4,"v":0.8},{"s":"Saint John","d":199,"v":0.58},{"s":"Saint John","d":203.6,"v":0.35},{"s":"Saint John","d":209,"v":0.28},{"s":"Saint John","d":212.5,"v":0.25},{"s":"Saint John","d":217,"v":0.16},{"s":"Saint John","d":221.4,"v":0.12},{"s":"Saint John","d":230.6,"v":0.2},{"s":"Saint John","d":235,"v":0.3},{"s":"Saint John","d":239.6,"v":0.44},{"s":"Saint John","d":243,"v":0.38},{"s":"Saint John","d":248.3,"v":0.25},{"s":"Saint John","d":251,"v":0.32},{"s":"Saint John","d":253,"v":1.35},{"s":"Saint John","d":254.5,"v":1.05},{"s":"Saint John","d":257,"v":0.95},{"s":"Saint John","d":260,"v":0.6},{"s":"Saint John","d":262.5,"v":0.45},{"s":"Saint John","d":266,"v":0.55},{"s":"Saint John","d":268.7,"v":0.45},{"s":"Saint John","d":273,"v":0.4},{"s":"Saint John","d":276,"v":0.55},{"s":"Saint John","d":279.4,"v":0.4},{"s":"Saint John","d":284,"v":0.35},{"s":"Saint John","d":292,"v":0.25},{"s":"Saint John","d":297,"v":0.2},{"s":"Saint John","d":301.7,"v":0.2},{"s":"Saint John","d":304,"v":0.65},{"s":"Saint John","d":308,"v":0.55},{"s":"Saint John","d":311.5,"v":0.42},{"s":"Saint John","d":314,"v":0.3},{"s":"Saint John","d":316,"v":0.48},{"s":"Saint John","d":317,"v":0.85},{"s":"Saint John","d":318.6,"v":0.75},{"s":"Saint John","d":320,"v":0.5},{"s":"Saint John","d":324,"v":0.35},{"s":"Saint John","d":333,"v":0.3},{"s":"Saint John","d":338,"v":0.4},{"s":"Saint John","d":342.6,"v":0.55},{"s":"Saint John","d":347,"v":0.42},{"s":"Saint John","d":352.4,"v":0.35},{"s":"Saint John","d":361,"v":0.35},{"s":"Saint John","d":365,"v":0.3},
{"s":"Penobscot","d":0,"v":0.5},{"s":"Penobscot","d":2.7,"v":0.55},{"s":"Penobscot","d":5.4,"v":0.5},{"s":"Penobscot","d":9.8,"v":0.6},{"s":"Penobscot","d":14.3,"v":0.58},{"s":"Penobscot","d":17,"v":0.65},{"s":"Penobscot","d":21.5,"v":0.6},{"s":"Penobscot","d":26,"v":0.7},{"s":"Penobscot","d":31.3,"v":0.72},{"s":"Penobscot","d":36.6,"v":0.68},{"s":"Penobscot","d":42,"v":0.62},{"s":"Penobscot","d":44.7,"v":1.0},{"s":"Penobscot","d":47.4,"v":1.0},{"s":"Penobscot","d":51,"v":1.35},{"s":"Penobscot","d":54.5,"v":1.3},{"s":"Penobscot","d":57.2,"v":2.0},{"s":"Penobscot","d":59,"v":2.3},{"s":"Penobscot","d":61.2,"v":2.5},{"s":"Penobscot","d":63.4,"v":2.4},{"s":"Penobscot","d":66,"v":2.05},{"s":"Penobscot","d":67.5,"v":2.4},{"s":"Penobscot","d":69,"v":5.2},{"s":"Penobscot","d":69.9,"v":5.0},{"s":"Penobscot","d":71.5,"v":3.5},{"s":"Penobscot","d":72.4,"v":3.3},{"s":"Penobscot","d":75,"v":2.5},{"s":"Penobscot","d":78.6,"v":1.8},{"s":"Penobscot","d":82.2,"v":1.5},{"s":"Penobscot","d":84.9,"v":1.25},{"s":"Penobscot","d":86.2,"v":1.5},{"s":"Penobscot","d":87.6,"v":4.0},{"s":"Penobscot","d":89.8,"v":7.1},{"s":"Penobscot","d":91.2,"v":7.35},{"s":"Penobscot","d":92,"v":6.9},{"s":"Penobscot","d":93.8,"v":5.0},{"s":"Penobscot","d":95.6,"v":4.2},{"s":"Penobscot","d":97.4,"v":3.9},{"s":"Penobscot","d":99.2,"v":3.6},{"s":"Penobscot","d":101,"v":3.25},{"s":"Penobscot","d":103.2,"v":3.4},{"s":"Penobscot","d":105.5,"v":4.4},{"s":"Penobscot","d":106.8,"v":4.6},{"s":"Penobscot","d":108.1,"v":5.25},{"s":"Penobscot","d":109.2,"v":5.2},{"s":"Penobscot","d":110.8,"v":4.5},{"s":"Penobscot","d":114.2,"v":4.4},{"s":"Penobscot","d":116.9,"v":3.6},{"s":"Penobscot","d":119,"v":2.3},{"s":"Penobscot","d":120.9,"v":2.2},{"s":"Penobscot","d":123.1,"v":2.1},{"s":"Penobscot","d":125.4,"v":2.2},{"s":"Penobscot","d":127.2,"v":2.85},{"s":"Penobscot","d":129.4,"v":2.1},{"s":"Penobscot","d":132.1,"v":1.3},{"s":"Penobscot","d":135.7,"v":1.2},{"s":"Penobscot","d":139.2,"v":0.85},{"s":"Penobscot","d":140.6,"v":0.85},{"s":"Penobscot","d":142.1,"v":2.15},{"s":"Penobscot","d":145.5,"v":1.35},{"s":"Penobscot","d":150,"v":0.95},{"s":"Penobscot","d":154.4,"v":0.9},{"s":"Penobscot","d":158.9,"v":0.75},{"s":"Penobscot","d":163.4,"v":0.65},{"s":"Penobscot","d":164.2,"v":0.65},{"s":"Penobscot","d":166.1,"v":3.1},{"s":"Penobscot","d":167.4,"v":2.5},{"s":"Penobscot","d":169.6,"v":1.8},{"s":"Penobscot","d":172.3,"v":1.5},{"s":"Penobscot","d":175.4,"v":1.15},{"s":"Penobscot","d":176.8,"v":1.3},{"s":"Penobscot","d":178.1,"v":2.8},{"s":"Penobscot","d":179.4,"v":2.6},{"s":"Penobscot","d":182.1,"v":1.6},{"s":"Penobscot","d":184.8,"v":1.2},{"s":"Penobscot","d":187,"v":1.55},{"s":"Penobscot","d":189.7,"v":1.1},{"s":"Penobscot","d":191.1,"v":1.4},{"s":"Penobscot","d":192.9,"v":2.2},{"s":"Penobscot","d":196.4,"v":1.7},{"s":"Penobscot","d":199.1,"v":1.6},{"s":"Penobscot","d":202.2,"v":0.9},{"s":"Penobscot","d":205.4,"v":0.75},{"s":"Penobscot","d":208.2,"v":0.6},{"s":"Penobscot","d":212.5,"v":0.6},{"s":"Penobscot","d":217,"v":0.5},{"s":"Penobscot","d":222.3,"v":0.5},{"s":"Penobscot","d":224.2,"v":0.95},{"s":"Penobscot","d":230.5,"v":0.55},{"s":"Penobscot","d":239.5,"v":0.45},{"s":"Penobscot","d":248.5,"v":0.45},{"s":"Penobscot","d":252,"v":0.5},{"s":"Penobscot","d":254.5,"v":0.5},{"s":"Penobscot","d":267.8,"v":0.55},{"s":"Penobscot","d":268.7,"v":1.0},{"s":"Penobscot","d":271,"v":0.45},{"s":"Penobscot","d":272.7,"v":0.6},{"s":"Penobscot","d":275.8,"v":0.75},{"s":"Penobscot","d":281.2,"v":0.75},{"s":"Penobscot","d":284.8,"v":0.7},{"s":"Penobscot","d":288.3,"v":1.2},{"s":"Penobscot","d":290,"v":1.0},{"s":"Penobscot","d":293.7,"v":0.7},{"s":"Penobscot","d":297.2,"v":0.55},{"s":"Penobscot","d":300.8,"v":0.55},{"s":"Penobscot","d":304,"v":0.8},{"s":"Penobscot","d":308,"v":0.7},{"s":"Penobscot","d":312.4,"v":0.55},{"s":"Penobscot","d":316,"v":0.7},{"s":"Penobscot","d":319.5,"v":0.85},{"s":"Penobscot","d":322,"v":0.75},{"s":"Penobscot","d":330,"v":0.75},{"s":"Penobscot","d":331,"v":0.95},{"s":"Penobscot","d":334.6,"v":0.8},{"s":"Penobscot","d":340.8,"v":0.82},{"s":"Penobscot","d":346,"v":0.65},{"s":"Penobscot","d":352.4,"v":0.6},{"s":"Penobscot","d":359.6,"v":0.55},{"s":"Penobscot","d":365,"v":0.45},
{"s":"Androscoggin","d":0,"v":0.3},{"s":"Androscoggin","d":3.6,"v":0.3},{"s":"Androscoggin","d":5.4,"v":0.45},{"s":"Androscoggin","d":8,"v":0.45},{"s":"Androscoggin","d":8.9,"v":0.65},{"s":"Androscoggin","d":10.3,"v":0.4},{"s":"Androscoggin","d":12.5,"v":0.55},{"s":"Androscoggin","d":14.3,"v":0.5},{"s":"Androscoggin","d":17,"v":0.25},{"s":"Androscoggin","d":18.8,"v":0.4},{"s":"Androscoggin","d":22.3,"v":0.4},{"s":"Androscoggin","d":23.7,"v":0.2},{"s":"Androscoggin","d":25,"v":0.4},{"s":"Androscoggin","d":30.4,"v":0.35},{"s":"Androscoggin","d":32.2,"v":0.2},{"s":"Androscoggin","d":33.1,"v":0.35},{"s":"Androscoggin","d":36.6,"v":0.4},{"s":"Androscoggin","d":38,"v":0.2},{"s":"Androscoggin","d":40.2,"v":0.4},{"s":"Androscoggin","d":42.9,"v":0.5},{"s":"Androscoggin","d":45.1,"v":0.3},{"s":"Androscoggin","d":46.5,"v":0.5},{"s":"Androscoggin","d":50,"v":0.55},{"s":"Androscoggin","d":51.8,"v":0.35},{"s":"Androscoggin","d":54.5,"v":0.55},{"s":"Androscoggin","d":56.3,"v":0.65},{"s":"Androscoggin","d":57.2,"v":0.95},{"s":"Androscoggin","d":59.9,"v":0.95},{"s":"Androscoggin","d":62.6,"v":1.15},{"s":"Androscoggin","d":63.4,"v":1.1},{"s":"Androscoggin","d":65.2,"v":0.95},{"s":"Androscoggin","d":67,"v":1.0},{"s":"Androscoggin","d":68.8,"v":2.7},{"s":"Androscoggin","d":70.2,"v":1.5},{"s":"Androscoggin","d":71.5,"v":1.2},{"s":"Androscoggin","d":73.3,"v":1.0},{"s":"Androscoggin","d":76.9,"v":0.9},{"s":"Androscoggin","d":79.1,"v":0.7},{"s":"Androscoggin","d":82.2,"v":0.7},{"s":"Androscoggin","d":84.5,"v":0.62},{"s":"Androscoggin","d":85.8,"v":0.75},{"s":"Androscoggin","d":87.6,"v":2.2},{"s":"Androscoggin","d":89.4,"v":3.8},{"s":"Androscoggin","d":90.7,"v":4.6},{"s":"Androscoggin","d":92,"v":3.8},{"s":"Androscoggin","d":93.8,"v":2.5},{"s":"Androscoggin","d":95.6,"v":1.5},{"s":"Androscoggin","d":97,"v":1.25},{"s":"Androscoggin","d":98.7,"v":1.35},{"s":"Androscoggin","d":101,"v":1.15},{"s":"Androscoggin","d":102.8,"v":1.0},{"s":"Androscoggin","d":105.5,"v":1.05},{"s":"Androscoggin","d":106.3,"v":1.35},{"s":"Androscoggin","d":108.1,"v":1.25},{"s":"Androscoggin","d":110.8,"v":1.35},{"s":"Androscoggin","d":112.6,"v":1.15},{"s":"Androscoggin","d":114.2,"v":1.2},{"s":"Androscoggin","d":115.5,"v":1.3},{"s":"Androscoggin","d":117.8,"v":1.1},{"s":"Androscoggin","d":119.6,"v":1.15},{"s":"Androscoggin","d":123.1,"v":0.95},{"s":"Androscoggin","d":125,"v":1.0},{"s":"Androscoggin","d":126.3,"v":2.1},{"s":"Androscoggin","d":128.1,"v":1.4},{"s":"Androscoggin","d":130.3,"v":1.2},{"s":"Androscoggin","d":133,"v":0.85},{"s":"Androscoggin","d":135.7,"v":0.7},{"s":"Androscoggin","d":137.4,"v":0.72},{"s":"Androscoggin","d":138.3,"v":0.55},{"s":"Androscoggin","d":141,"v":0.55},{"s":"Androscoggin","d":143.2,"v":0.4},{"s":"Androscoggin","d":145,"v":0.55},{"s":"Androscoggin","d":146.4,"v":0.35},{"s":"Androscoggin","d":149.1,"v":0.3},{"s":"Androscoggin","d":151.7,"v":0.35},{"s":"Androscoggin","d":153.5,"v":0.4},{"s":"Androscoggin","d":156.2,"v":0.3},{"s":"Androscoggin","d":157.1,"v":0.5},{"s":"Androscoggin","d":158.9,"v":0.4},{"s":"Androscoggin","d":162.5,"v":0.35},{"s":"Androscoggin","d":163.2,"v":0.25},{"s":"Androscoggin","d":165.2,"v":5.45},{"s":"Androscoggin","d":166.1,"v":4.8},{"s":"Androscoggin","d":167.9,"v":4.2},{"s":"Androscoggin","d":169.6,"v":3.0},{"s":"Androscoggin","d":172.3,"v":1.8},{"s":"Androscoggin","d":175,"v":1.15},{"s":"Androscoggin","d":176.8,"v":1.3},{"s":"Androscoggin","d":178.1,"v":2.75},{"s":"Androscoggin","d":179.4,"v":2.0},{"s":"Androscoggin","d":180.8,"v":1.6},{"s":"Androscoggin","d":183,"v":1.7},{"s":"Androscoggin","d":184.8,"v":1.3},{"s":"Androscoggin","d":186.6,"v":1.5},{"s":"Androscoggin","d":188.4,"v":1.2},{"s":"Androscoggin","d":190.7,"v":0.85},{"s":"Androscoggin","d":192.9,"v":1.25},{"s":"Androscoggin","d":195.6,"v":1.1},{"s":"Androscoggin","d":197.4,"v":0.7},{"s":"Androscoggin","d":201,"v":0.55},{"s":"Androscoggin","d":203.6,"v":0.45},{"s":"Androscoggin","d":208.2,"v":0.5},{"s":"Androscoggin","d":211.8,"v":0.4},{"s":"Androscoggin","d":212.7,"v":0.5},{"s":"Androscoggin","d":219.8,"v":0.25},{"s":"Androscoggin","d":221.5,"v":0.35},{"s":"Androscoggin","d":224.2,"v":0.4},{"s":"Androscoggin","d":230.5,"v":0.3},{"s":"Androscoggin","d":239.5,"v":0.3},{"s":"Androscoggin","d":243,"v":0.3},{"s":"Androscoggin","d":248.3,"v":0.25},{"s":"Androscoggin","d":254.5,"v":0.2},{"s":"Androscoggin","d":258,"v":0.3},{"s":"Androscoggin","d":260.7,"v":0.25},{"s":"Androscoggin","d":263.4,"v":0.3},{"s":"Androscoggin","d":267.8,"v":0.2},{"s":"Androscoggin","d":272.3,"v":0.15},{"s":"Androscoggin","d":276.7,"v":0.2},{"s":"Androscoggin","d":279.4,"v":0.25},{"s":"Androscoggin","d":282,"v":0.5},{"s":"Androscoggin","d":283.9,"v":1.4},{"s":"Androscoggin","d":285.2,"v":0.85},{"s":"Androscoggin","d":286.5,"v":0.75},{"s":"Androscoggin","d":289.2,"v":0.9},{"s":"Androscoggin","d":292,"v":0.6},{"s":"Androscoggin","d":295.4,"v":0.35},{"s":"Androscoggin","d":299,"v":0.3},{"s":"Androscoggin","d":301.7,"v":0.25},{"s":"Androscoggin","d":304,"v":0.2},{"s":"Androscoggin","d":306,"v":0.35},{"s":"Androscoggin","d":309.7,"v":0.25},{"s":"Androscoggin","d":313.2,"v":0.35},{"s":"Androscoggin","d":316.8,"v":0.3},{"s":"Androscoggin","d":321.3,"v":0.35},{"s":"Androscoggin","d":325.7,"v":0.4},{"s":"Androscoggin","d":328.4,"v":0.3},{"s":"Androscoggin","d":331,"v":0.6},{"s":"Androscoggin","d":334.6,"v":0.55},{"s":"Androscoggin","d":337.3,"v":0.6},{"s":"Androscoggin","d":340,"v":0.45},{"s":"Androscoggin","d":343.5,"v":0.5},{"s":"Androscoggin","d":346.2,"v":0.25},{"s":"Androscoggin","d":348.9,"v":0.4},{"s":"Androscoggin","d":352.4,"v":0.35},{"s":"Androscoggin","d":355,"v":0.4},{"s":"Androscoggin","d":357.7,"v":0.35},{"s":"Androscoggin","d":359.5,"v":0.2},{"s":"Androscoggin","d":361.3,"v":0.4},{"s":"Androscoggin","d":365,"v":0.3},
{"s":"Merrimack","d":0,"v":0.45},{"s":"Merrimack","d":4.5,"v":0.45},{"s":"Merrimack","d":6.3,"v":0.7},{"s":"Merrimack","d":8,"v":1.2},{"s":"Merrimack","d":9.1,"v":2.55},{"s":"Merrimack","d":9.8,"v":2.45},{"s":"Merrimack","d":11.6,"v":1.7},{"s":"Merrimack","d":13.4,"v":1.3},{"s":"Merrimack","d":15.2,"v":0.9},{"s":"Merrimack","d":17,"v":1.0},{"s":"Merrimack","d":19.7,"v":0.9},{"s":"Merrimack","d":21.4,"v":0.7},{"s":"Merrimack","d":25,"v":1.05},{"s":"Merrimack","d":26.8,"v":0.95},{"s":"Merrimack","d":29.5,"v":0.85},{"s":"Merrimack","d":32.2,"v":0.75},{"s":"Merrimack","d":35.7,"v":0.7},{"s":"Merrimack","d":37.5,"v":0.7},{"s":"Merrimack","d":38,"v":0.8},{"s":"Merrimack","d":39.3,"v":0.65},{"s":"Merrimack","d":41.1,"v":0.5},{"s":"Merrimack","d":42.4,"v":0.75},{"s":"Merrimack","d":44.2,"v":1.1},{"s":"Merrimack","d":45.6,"v":0.95},{"s":"Merrimack","d":47.4,"v":0.9},{"s":"Merrimack","d":51,"v":1.4},{"s":"Merrimack","d":53.6,"v":1.3},{"s":"Merrimack","d":55.4,"v":2.15},{"s":"Merrimack","d":56.7,"v":2.3},{"s":"Merrimack","d":59.9,"v":1.95},{"s":"Merrimack","d":62.6,"v":1.85},{"s":"Merrimack","d":65.2,"v":1.8},{"s":"Merrimack","d":67,"v":1.5},{"s":"Merrimack","d":67.9,"v":1.7},{"s":"Merrimack","d":69.5,"v":4.05},{"s":"Merrimack","d":70.2,"v":4.0},{"s":"Merrimack","d":71.5,"v":3.3},{"s":"Merrimack","d":73.3,"v":2.3},{"s":"Merrimack","d":75,"v":1.9},{"s":"Merrimack","d":77.7,"v":1.6},{"s":"Merrimack","d":79.1,"v":1.8},{"s":"Merrimack","d":81.3,"v":1.6},{"s":"Merrimack","d":83.1,"v":1.4},{"s":"Merrimack","d":85.3,"v":1.3},{"s":"Merrimack","d":86.2,"v":1.55},{"s":"Merrimack","d":87.6,"v":2.4},{"s":"Merrimack","d":89.4,"v":3.25},{"s":"Merrimack","d":91.2,"v":3.1},{"s":"Merrimack","d":92.5,"v":3.25},{"s":"Merrimack","d":93.8,"v":3.0},{"s":"Merrimack","d":95.6,"v":2.3},{"s":"Merrimack","d":97.4,"v":1.6},{"s":"Merrimack","d":99.6,"v":1.3},{"s":"Merrimack","d":101.9,"v":1.1},{"s":"Merrimack","d":105,"v":0.85},{"s":"Merrimack","d":107.2,"v":0.95},{"s":"Merrimack","d":108.6,"v":1.05},{"s":"Merrimack","d":110.8,"v":1.35},{"s":"Merrimack","d":112.2,"v":1.2},{"s":"Merrimack","d":114.2,"v":1.15},{"s":"Merrimack","d":116.9,"v":1.0},{"s":"Merrimack","d":119.6,"v":0.88},{"s":"Merrimack","d":121.4,"v":0.85},{"s":"Merrimack","d":123.1,"v":0.95},{"s":"Merrimack","d":125,"v":1.1},{"s":"Merrimack","d":127.2,"v":2.2},{"s":"Merrimack","d":128.5,"v":1.9},{"s":"Merrimack","d":130.3,"v":1.75},{"s":"Merrimack","d":131.6,"v":1.95},{"s":"Merrimack","d":134.8,"v":1.4},{"s":"Merrimack","d":136.5,"v":1.2},{"s":"Merrimack","d":138.3,"v":0.9},{"s":"Merrimack","d":140.1,"v":0.85},{"s":"Merrimack","d":141.9,"v":0.65},{"s":"Merrimack","d":144.1,"v":0.55},{"s":"Merrimack","d":145,"v":0.7},{"s":"Merrimack","d":146.4,"v":0.35},{"s":"Merrimack","d":149.1,"v":0.35},{"s":"Merrimack","d":150.9,"v":0.75},{"s":"Merrimack","d":152.6,"v":0.8},{"s":"Merrimack","d":155.3,"v":0.6},{"s":"Merrimack","d":157.1,"v":0.45},{"s":"Merrimack","d":158.9,"v":0.55},{"s":"Merrimack","d":161.5,"v":0.5},{"s":"Merrimack","d":162.9,"v":0.7},{"s":"Merrimack","d":165.1,"v":3.9},{"s":"Merrimack","d":167.1,"v":4.75},{"s":"Merrimack","d":168,"v":4.7},{"s":"Merrimack","d":169.3,"v":4.1},{"s":"Merrimack","d":171.6,"v":3.5},{"s":"Merrimack","d":173.4,"v":2.9},{"s":"Merrimack","d":175.2,"v":2.1},{"s":"Merrimack","d":176.5,"v":2.05},{"s":"Merrimack","d":177.4,"v":2.2},{"s":"Merrimack","d":179.2,"v":2.8},{"s":"Merrimack","d":181,"v":2.2},{"s":"Merrimack","d":183.2,"v":2.2},{"s":"Merrimack","d":185.3,"v":1.5},{"s":"Merrimack","d":187.6,"v":1.3},{"s":"Merrimack","d":190.2,"v":1.1},{"s":"Merrimack","d":192.9,"v":1.0},{"s":"Merrimack","d":194.7,"v":0.8},{"s":"Merrimack","d":195.5,"v":0.55},{"s":"Merrimack","d":197.4,"v":0.65},{"s":"Merrimack","d":199.1,"v":0.4},{"s":"Merrimack","d":203.6,"v":0.4},{"s":"Merrimack","d":206.3,"v":0.3},{"s":"Merrimack","d":212.6,"v":0.2},{"s":"Merrimack","d":217,"v":0.2},{"s":"Merrimack","d":219.7,"v":0.2},{"s":"Merrimack","d":225,"v":0.3},{"s":"Merrimack","d":226.8,"v":0.2},{"s":"Merrimack","d":230.5,"v":0.2},{"s":"Merrimack","d":236.8,"v":0.15},{"s":"Merrimack","d":238.6,"v":0.3},{"s":"Merrimack","d":241.3,"v":0.2},{"s":"Merrimack","d":243,"v":0.15},{"s":"Merrimack","d":245.7,"v":0.1},{"s":"Merrimack","d":250.2,"v":0.1},{"s":"Merrimack","d":252,"v":0.25},{"s":"Merrimack","d":254.5,"v":0.2},{"s":"Merrimack","d":255.4,"v":0.15},{"s":"Merrimack","d":258,"v":0.1},{"s":"Merrimack","d":260,"v":0.2},{"s":"Merrimack","d":261.6,"v":0.15},{"s":"Merrimack","d":266,"v":0.15},{"s":"Merrimack","d":267.8,"v":0.1},{"s":"Merrimack","d":272.3,"v":0.1},{"s":"Merrimack","d":279.4,"v":0.1},{"s":"Merrimack","d":281.2,"v":0.25},{"s":"Merrimack","d":283,"v":0.5},{"s":"Merrimack","d":284.8,"v":0.45},{"s":"Merrimack","d":286.5,"v":0.6},{"s":"Merrimack","d":288.8,"v":0.85},{"s":"Merrimack","d":290.1,"v":0.8},{"s":"Merrimack","d":292.8,"v":0.5},{"s":"Merrimack","d":296.3,"v":0.35},{"s":"Merrimack","d":301.7,"v":0.3},{"s":"Merrimack","d":304,"v":0.3},{"s":"Merrimack","d":308,"v":0.35},{"s":"Merrimack","d":310.1,"v":0.15},{"s":"Merrimack","d":313.2,"v":0.25},{"s":"Merrimack","d":316,"v":0.35},{"s":"Merrimack","d":318.6,"v":0.3},{"s":"Merrimack","d":322.2,"v":0.4},{"s":"Merrimack","d":324,"v":0.25},{"s":"Merrimack","d":327.5,"v":0.3},{"s":"Merrimack","d":330.2,"v":0.35},{"s":"Merrimack","d":332,"v":0.85},{"s":"Merrimack","d":334.6,"v":0.6},{"s":"Merrimack","d":336.4,"v":0.45},{"s":"Merrimack","d":340.8,"v":0.45},{"s":"Merrimack","d":343.5,"v":0.45},{"s":"Merrimack","d":348,"v":0.4},{"s":"Merrimack","d":352.4,"v":0.35},{"s":"Merrimack","d":357,"v":0.35},{"s":"Merrimack","d":361.3,"v":0.3},{"s":"Merrimack","d":365,"v":0.25}
],
"flowD": [
{"s":"Charles","d":0,"v":0.029},{"s":"Charles","d":2.7,"v":0.028},{"s":"Charles","d":4.9,"v":0.031},{"s":"Charles","d":6.3,"v":0.035},{"s":"Charles","d":7.1,"v":0.05},{"s":"Charles","d":8.9,"v":0.055},{"s":"Charles","d":9.8,"v":0.058},{"s":"Charles","d":12.5,"v":0.058},{"s":"Charles","d":16.1,"v":0.048},{"s":"Charles","d":18.8,"v":0.046},{"s":"Charles","d":21.4,"v":0.04},{"s":"Charles","d":22.3,"v":0.038},{"s":"Charles","d":23.2,"v":0.07},{"s":"Charles","d":24.1,"v":0.078},{"s":"Charles","d":25.9,"v":0.074},{"s":"Charles","d":28.6,"v":0.076},{"s":"Charles","d":32.2,"v":0.065},{"s":"Charles","d":36.6,"v":0.052},{"s":"Charles","d":40.2,"v":0.047},{"s":"Charles","d":41.1,"v":0.045},{"s":"Charles","d":42,"v":0.056},{"s":"Charles","d":42.9,"v":0.062},{"s":"Charles","d":44.7,"v":0.058},{"s":"Charles","d":46.9,"v":0.057},{"s":"Charles","d":47.8,"v":0.082},{"s":"Charles","d":49.2,"v":0.09},{"s":"Charles","d":50.5,"v":0.082},{"s":"Charles","d":52.7,"v":0.08},{"s":"Charles","d":53.6,"v":0.078},{"s":"Charles","d":55,"v":0.118},{"s":"Charles","d":56.3,"v":0.11},{"s":"Charles","d":58.1,"v":0.1},{"s":"Charles","d":59.9,"v":0.102},{"s":"Charles","d":62.6,"v":0.094},{"s":"Charles","d":66.1,"v":0.072},{"s":"Charles","d":67.9,"v":0.117},{"s":"Charles","d":69.7,"v":0.1},{"s":"Charles","d":72.4,"v":0.1},{"s":"Charles","d":76,"v":0.087},{"s":"Charles","d":77.7,"v":0.102},{"s":"Charles","d":79.1,"v":0.096},{"s":"Charles","d":81.3,"v":0.092},{"s":"Charles","d":85.8,"v":0.083},{"s":"Charles","d":89.8,"v":0.067},{"s":"Charles","d":91.2,"v":0.072},{"s":"Charles","d":93.8,"v":0.063},{"s":"Charles","d":95.6,"v":0.05},{"s":"Charles","d":98.3,"v":0.05},{"s":"Charles","d":100.1,"v":0.042},{"s":"Charles","d":102.8,"v":0.04},{"s":"Charles","d":104.6,"v":0.038},{"s":"Charles","d":107.2,"v":0.038},{"s":"Charles","d":108.1,"v":0.036},{"s":"Charles","d":109,"v":0.047},{"s":"Charles","d":111.3,"v":0.045},{"s":"Charles","d":113,"v":0.065},{"s":"Charles","d":114.2,"v":0.062},{"s":"Charles","d":116.9,"v":0.058},{"s":"Charles","d":120,"v":0.052},{"s":"Charles","d":121.4,"v":0.053},{"s":"Charles","d":123.9,"v":0.045},{"s":"Charles","d":125.4,"v":0.075},{"s":"Charles","d":126.3,"v":0.078},{"s":"Charles","d":127.8,"v":0.075},{"s":"Charles","d":129.8,"v":0.138},{"s":"Charles","d":131,"v":0.141},{"s":"Charles","d":132.5,"v":0.131},{"s":"Charles","d":134.3,"v":0.124},{"s":"Charles","d":137.4,"v":0.105},{"s":"Charles","d":141,"v":0.083},{"s":"Charles","d":144.6,"v":0.072},{"s":"Charles","d":150,"v":0.06},{"s":"Charles","d":151,"v":0.067},{"s":"Charles","d":152.2,"v":0.063},{"s":"Charles","d":153.5,"v":0.064},{"s":"Charles","d":156.2,"v":0.058},{"s":"Charles","d":158,"v":0.06},{"s":"Charles","d":159.8,"v":0.055},{"s":"Charles","d":162,"v":0.056},{"s":"Charles","d":162.9,"v":0.11},{"s":"Charles","d":164.1,"v":0.193},{"s":"Charles","d":166,"v":0.185},{"s":"Charles","d":166.9,"v":0.166},{"s":"Charles","d":168.9,"v":0.173},{"s":"Charles","d":171.4,"v":0.152},{"s":"Charles","d":175.9,"v":0.11},{"s":"Charles","d":178.7,"v":0.088},{"s":"Charles","d":180.8,"v":0.107},{"s":"Charles","d":183,"v":0.098},{"s":"Charles","d":184.8,"v":0.095},{"s":"Charles","d":187,"v":0.08},{"s":"Charles","d":190.2,"v":0.07},{"s":"Charles","d":194.6,"v":0.047},{"s":"Charles","d":196.9,"v":0.03},{"s":"Charles","d":199.1,"v":0.027},{"s":"Charles","d":200.9,"v":0.017},{"s":"Charles","d":202.7,"v":0.021},{"s":"Charles","d":206.2,"v":0.021},{"s":"Charles","d":208,"v":0.018},{"s":"Charles","d":210.7,"v":0.024},{"s":"Charles","d":212.5,"v":0.022},{"s":"Charles","d":214.7,"v":0.016},{"s":"Charles","d":220.6,"v":0.015},{"s":"Charles","d":221.9,"v":0.01},{"s":"Charles","d":223,"v":0.02},{"s":"Charles","d":224.1,"v":0.014},{"s":"Charles","d":226.8,"v":0.014},{"s":"Charles","d":229,"v":0.03},{"s":"Charles","d":232.2,"v":0.024},{"s":"Charles","d":235.7,"v":0.023},{"s":"Charles","d":237.5,"v":0.024},{"s":"Charles","d":241.1,"v":0.024},{"s":"Charles","d":242.9,"v":0.018},{"s":"Charles","d":245.1,"v":0.019},{"s":"Charles","d":248.2,"v":0.016},{"s":"Charles","d":251.8,"v":0.012},{"s":"Charles","d":254.5,"v":0.012},{"s":"Charles","d":258,"v":0.011},{"s":"Charles","d":259,"v":0.008},{"s":"Charles","d":262.5,"v":0.01},{"s":"Charles","d":263.4,"v":0.013},{"s":"Charles","d":265.2,"v":0.03},{"s":"Charles","d":266.5,"v":0.025},{"s":"Charles","d":269.6,"v":0.02},{"s":"Charles","d":272.3,"v":0.015},{"s":"Charles","d":279.4,"v":0.011},{"s":"Charles","d":280.3,"v":0.01},{"s":"Charles","d":281.2,"v":0.045},{"s":"Charles","d":282.1,"v":0.05},{"s":"Charles","d":283.2,"v":0.073},{"s":"Charles","d":285.2,"v":0.068},{"s":"Charles","d":287,"v":0.068},{"s":"Charles","d":290.1,"v":0.055},{"s":"Charles","d":295.4,"v":0.027},{"s":"Charles","d":299,"v":0.02},{"s":"Charles","d":304,"v":0.018},{"s":"Charles","d":308,"v":0.016},{"s":"Charles","d":312.4,"v":0.017},{"s":"Charles","d":313.7,"v":0.023},{"s":"Charles","d":317.7,"v":0.027},{"s":"Charles","d":321.3,"v":0.025},{"s":"Charles","d":325.7,"v":0.025},{"s":"Charles","d":328.4,"v":0.023},{"s":"Charles","d":330.2,"v":0.03},{"s":"Charles","d":332.8,"v":0.032},{"s":"Charles","d":336.4,"v":0.028},{"s":"Charles","d":340,"v":0.02},{"s":"Charles","d":342.6,"v":0.021},{"s":"Charles","d":345.3,"v":0.02},{"s":"Charles","d":348,"v":0.014},{"s":"Charles","d":351.5,"v":0.018},{"s":"Charles","d":356.9,"v":0.018},{"s":"Charles","d":360.4,"v":0.015},{"s":"Charles","d":362.2,"v":0.023},{"s":"Charles","d":363.6,"v":0.022},{"s":"Charles","d":365,"v":0.027},
{"s":"Ipswich","d":0,"v":0.012},{"s":"Ipswich","d":2.7,"v":0.015},{"s":"Ipswich","d":5.4,"v":0.016},{"s":"Ipswich","d":6.7,"v":0.02},{"s":"Ipswich","d":9.8,"v":0.038},{"s":"Ipswich","d":10.7,"v":0.041},{"s":"Ipswich","d":13.4,"v":0.036},{"s":"Ipswich","d":15.2,"v":0.028},{"s":"Ipswich","d":18.8,"v":0.023},{"s":"Ipswich","d":21.9,"v":0.017},{"s":"Ipswich","d":24.1,"v":0.027},{"s":"Ipswich","d":26.8,"v":0.047},{"s":"Ipswich","d":27.7,"v":0.046},{"s":"Ipswich","d":31.3,"v":0.04},{"s":"Ipswich","d":36.6,"v":0.03},{"s":"Ipswich","d":39.3,"v":0.024},{"s":"Ipswich","d":41.1,"v":0.023},{"s":"Ipswich","d":43.8,"v":0.032},{"s":"Ipswich","d":45.6,"v":0.036},{"s":"Ipswich","d":47.2,"v":0.034},{"s":"Ipswich","d":48.7,"v":0.08},{"s":"Ipswich","d":50.9,"v":0.093},{"s":"Ipswich","d":53,"v":0.075},{"s":"Ipswich","d":55,"v":0.113},{"s":"Ipswich","d":56.3,"v":0.14},{"s":"Ipswich","d":57.2,"v":0.138},{"s":"Ipswich","d":59.9,"v":0.11},{"s":"Ipswich","d":62.6,"v":0.08},{"s":"Ipswich","d":64.3,"v":0.062},{"s":"Ipswich","d":66.1,"v":0.046},{"s":"Ipswich","d":67,"v":0.047},{"s":"Ipswich","d":70,"v":0.083},{"s":"Ipswich","d":72.4,"v":0.063},{"s":"Ipswich","d":76,"v":0.047},{"s":"Ipswich","d":76.9,"v":0.047},{"s":"Ipswich","d":80.4,"v":0.058},{"s":"Ipswich","d":83.1,"v":0.05},{"s":"Ipswich","d":86.7,"v":0.043},{"s":"Ipswich","d":90.3,"v":0.035},{"s":"Ipswich","d":94.7,"v":0.033},{"s":"Ipswich","d":99.2,"v":0.028},{"s":"Ipswich","d":104.6,"v":0.022},{"s":"Ipswich","d":108.1,"v":0.019},{"s":"Ipswich","d":110.8,"v":0.022},{"s":"Ipswich","d":112.6,"v":0.025},{"s":"Ipswich","d":114.2,"v":0.035},{"s":"Ipswich","d":116,"v":0.04},{"s":"Ipswich","d":119.6,"v":0.031},{"s":"Ipswich","d":123.1,"v":0.03},{"s":"Ipswich","d":125,"v":0.032},{"s":"Ipswich","d":127.6,"v":0.045},{"s":"Ipswich","d":129.4,"v":0.07},{"s":"Ipswich","d":130.7,"v":0.104},{"s":"Ipswich","d":132.1,"v":0.103},{"s":"Ipswich","d":134.8,"v":0.087},{"s":"Ipswich","d":139.2,"v":0.057},{"s":"Ipswich","d":143.7,"v":0.04},{"s":"Ipswich","d":150,"v":0.025},{"s":"Ipswich","d":151.7,"v":0.029},{"s":"Ipswich","d":154.4,"v":0.036},{"s":"Ipswich","d":157.1,"v":0.033},{"s":"Ipswich","d":160.7,"v":0.027},{"s":"Ipswich","d":162.5,"v":0.028},{"s":"Ipswich","d":163.4,"v":0.05},{"s":"Ipswich","d":165.1,"v":0.14},{"s":"Ipswich","d":166.9,"v":0.193},{"s":"Ipswich","d":167.8,"v":0.19},{"s":"Ipswich","d":171,"v":0.135},{"s":"Ipswich","d":175,"v":0.07},{"s":"Ipswich","d":178.6,"v":0.05},{"s":"Ipswich","d":183,"v":0.045},{"s":"Ipswich","d":188.4,"v":0.028},{"s":"Ipswich","d":194.6,"v":0.016},{"s":"Ipswich","d":200,"v":0.008},{"s":"Ipswich","d":202.7,"v":0.007},{"s":"Ipswich","d":205.4,"v":0.009},{"s":"Ipswich","d":210.7,"v":0.009},{"s":"Ipswich","d":215.2,"v":0.006},{"s":"Ipswich","d":221.4,"v":0.004},{"s":"Ipswich","d":223.2,"v":0.008},{"s":"Ipswich","d":225.9,"v":0.007},{"s":"Ipswich","d":230.4,"v":0.008},{"s":"Ipswich","d":237.5,"v":0.004},{"s":"Ipswich","d":242.9,"v":0.002},{"s":"Ipswich","d":254.3,"v":0.001},{"s":"Ipswich","d":280.3,"v":0.002},{"s":"Ipswich","d":282.1,"v":0.012},{"s":"Ipswich","d":283.9,"v":0.017},{"s":"Ipswich","d":287.4,"v":0.023},{"s":"Ipswich","d":291.9,"v":0.019},{"s":"Ipswich","d":299,"v":0.01},{"s":"Ipswich","d":304,"v":0.007},{"s":"Ipswich","d":312.4,"v":0.005},{"s":"Ipswich","d":316.8,"v":0.006},{"s":"Ipswich","d":325.7,"v":0.007},{"s":"Ipswich","d":333.7,"v":0.008},{"s":"Ipswich","d":340,"v":0.004},{"s":"Ipswich","d":348,"v":0.004},{"s":"Ipswich","d":356.9,"v":0.004},{"s":"Ipswich","d":361.3,"v":0.002},{"s":"Ipswich","d":365,"v":0.004},
{"s":"Parker","d":0,"v":0.004},{"s":"Parker","d":6,"v":0.005},{"s":"Parker","d":8.9,"v":0.01},{"s":"Parker","d":11.6,"v":0.009},{"s":"Parker","d":18.8,"v":0.005},{"s":"Parker","d":22.3,"v":0.004},{"s":"Parker","d":26,"v":0.009},{"s":"Parker","d":29.5,"v":0.009},{"s":"Parker","d":36.6,"v":0.006},{"s":"Parker","d":41.1,"v":0.004},{"s":"Parker","d":43.8,"v":0.007},{"s":"Parker","d":46.9,"v":0.006},{"s":"Parker","d":50,"v":0.018},{"s":"Parker","d":52.7,"v":0.014},{"s":"Parker","d":53.6,"v":0.015},{"s":"Parker","d":55.9,"v":0.023},{"s":"Parker","d":58.1,"v":0.02},{"s":"Parker","d":63.4,"v":0.012},{"s":"Parker","d":66.1,"v":0.008},{"s":"Parker","d":68.8,"v":0.016},{"s":"Parker","d":76,"v":0.008},{"s":"Parker","d":79.5,"v":0.011},{"s":"Parker","d":85.8,"v":0.009},{"s":"Parker","d":90.3,"v":0.007},{"s":"Parker","d":99.2,"v":0.005},{"s":"Parker","d":106.3,"v":0.003},{"s":"Parker","d":109.9,"v":0.005},{"s":"Parker","d":114.2,"v":0.008},{"s":"Parker","d":119.6,"v":0.006},{"s":"Parker","d":125,"v":0.007},{"s":"Parker","d":126.3,"v":0.01},{"s":"Parker","d":128.5,"v":0.01},{"s":"Parker","d":131.6,"v":0.02},{"s":"Parker","d":134.8,"v":0.017},{"s":"Parker","d":141,"v":0.01},{"s":"Parker","d":145.5,"v":0.005},{"s":"Parker","d":150,"v":0.003},{"s":"Parker","d":152.2,"v":0.009},{"s":"Parker","d":154.4,"v":0.008},{"s":"Parker","d":158.9,"v":0.005},{"s":"Parker","d":162.5,"v":0.004},{"s":"Parker","d":164.2,"v":0.02},{"s":"Parker","d":166,"v":0.03},{"s":"Parker","d":167.8,"v":0.028},{"s":"Parker","d":171.4,"v":0.02},{"s":"Parker","d":175.9,"v":0.011},{"s":"Parker","d":181.2,"v":0.008},{"s":"Parker","d":188.4,"v":0.004},{"s":"Parker","d":194.6,"v":0.002},{"s":"Parker","d":203.6,"v":0.001},{"s":"Parker","d":280,"v":0.0005},{"s":"Parker","d":283,"v":0.004},{"s":"Parker","d":286.5,"v":0.004},{"s":"Parker","d":291.9,"v":0.002},{"s":"Parker","d":299,"v":0.001},{"s":"Parker","d":365,"v":0.001}
]
},
"vconcat": [
{
 "width": 1563, "height": 214,
 "title": {"text": "A", "subtitle": "\u200b\u00a0\u00a0\u00a0\u00a0\u2009TEMPERATURE"},
 "layer": [
  {"data": {"name": "temp"}, "mark": {"type": "line", "strokeWidth": 1.3},
   "encoding": {
    "x": {"field": "d", "type": "quantitative", "scale": {"domain": [0, 365], "nice": false, "zero": false}, "axis": {"values": [0,31,59,90,120,151,181,212,243,273,304,334], "labels": false, "title": null}},
    "y": {"field": "v", "type": "quantitative", "scale": {"domain": [0, 25], "nice": false}, "axis": {"values": [0,5,10,15,20,25], "title": "TEMPERATURE, IN °C"}},
    "color": {"field": "s", "type": "nominal", "scale": {"domain": ["Surface (~0.6 m)", "Mid−depth (~12 m)", "Bottom (~21 m)"], "range": ["#ff00ff", "#ff0000", "#00ff00"]}, "legend": {"title": null, "legendX": 72, "legendY": 10}}
   }},
  {"data": {"values": [{}]}, "mark": {"type": "point", "opacity": 0},
   "encoding": {"y": {"datum": 0, "type": "quantitative", "scale": {"domain": [0, 25], "nice": false}, "axis": {"orient": "right", "values": [0,5,10,15,20,25], "labels": false, "title": null}}}}
 ],
 "resolve": {"scale": {"y": "independent"}}
},
{
 "spacing": 9.1,
 "resolve": {"scale": {"color": "independent"}, "legend": {"color": "independent"}},
 "vconcat": [
 {
  "width": 1563, "height": 214,
  "title": {"text": "B", "subtitle": "\u200b\u00a0\u00a0\u00a0\u00a0\u2009SALINITY"},
  "layer": [
   {"data": {"name": "sal"}, "mark": {"type": "line", "strokeWidth": 1.3},
    "encoding": {
     "x": {"field": "d", "type": "quantitative", "scale": {"domain": [0, 365], "nice": false, "zero": false}, "axis": {"values": [0,31,59,90,120,151,181,212,243,273,304,334], "labels": false, "title": null}},
     "y": {"field": "v", "type": "quantitative", "scale": {"domain": [28, 34], "nice": false, "zero": false}, "axis": {"values": [28,30,32,34], "title": "SALINITY, IN PSU"}},
     "color": {"field": "s", "type": "nominal", "scale": {"domain": ["Mid−depth (~12 m)", "Bottom (~21 m)"], "range": ["#ff0000", "#00ff00"]}, "legend": {"title": null, "legendX": 72, "legendY": 139}}
    }},
   {"data": {"values": [{}]}, "mark": {"type": "point", "opacity": 0},
    "encoding": {"y": {"datum": 28, "type": "quantitative", "scale": {"domain": [28, 34], "nice": false, "zero": false}, "axis": {"orient": "right", "values": [28,30,32,34], "labels": false, "title": null}}}}
  ],
  "resolve": {"scale": {"y": "independent"}}
 },
 {
  "width": 1563, "height": 214,
  "title": {"text": "C", "subtitle": "\u200b\u00a0\u00a0\u00a0\u00a0\u2009STREAMFLOW"},
  "layer": [
   {"data": {"name": "flowC"}, "mark": {"type": "line", "strokeWidth": 1.3, "clip": true},
    "encoding": {
     "x": {"field": "d", "type": "quantitative", "scale": {"domain": [0, 365], "nice": false, "zero": false}, "axis": {"values": [0,31,59,90,120,151,181,212,243,273,304,334], "labels": false, "title": null}},
     "y": {"field": "v", "type": "quantitative", "scale": {"domain": [0, 8], "nice": false}, "axis": {"values": [0,1,2,3,4,5,6,7,8], "labelExpr": "datum.value % 2 == 0 ? datum.label : ''", "title": ["STREAMFLOW,", "IN 10⁴ CFS"]}},
     "color": {"field": "s", "type": "nominal", "scale": {"domain": ["Saint John", "Penobscot", "Androscoggin", "Merrimack"], "range": ["#ff0000", "#ff00ff", "#00ff00", "#0000ff"]}, "legend": {"title": null, "legendX": 72, "legendY": 11}}
    }},
   {"data": {"values": [{}]}, "mark": {"type": "point", "opacity": 0},
    "encoding": {"y": {"datum": 0, "type": "quantitative", "scale": {"domain": [0, 2240], "nice": false}, "axis": {"orient": "right", "values": [0,280,560,840,1120,1400,1680,1960,2240], "labelExpr": "datum.value % 560 == 0 ? datum.label : ''", "format": "d", "title": ["STREAMFLOW,", "IN M³/S"], "titleAngle": 270, "titlePadding": 9}}}}
  ],
  "resolve": {"scale": {"y": "independent"}}
 },
 {
  "width": 1563, "height": 214,
  "title": {"text": "D", "subtitle": "\u200b\u00a0\u00a0\u00a0\u00a0\u2009STREAMFLOW"},
  "layer": [
   {"data": {"name": "flowD"}, "mark": {"type": "line", "strokeWidth": 1.3},
    "encoding": {
     "x": {"field": "d", "type": "quantitative", "scale": {"domain": [0, 365], "nice": false, "zero": false}, "axis": {"values": [0,31,59,90,120,151,181,212,243,273,304,334], "labelExpr": "['JAN.','FEB.','MAR.','APR.','MAY','JUNE','JULY','AUG.','SEPT.','OCT.','NOV.','DEC.'][indexof([0,31,59,90,120,151,181,212,243,273,304,334], datum.value)]", "labelPadding": 22.7, "title": "1998", "titlePadding": 19.3}},
     "y": {"field": "v", "type": "quantitative", "scale": {"domain": [0, 0.3], "nice": false}, "axis": {"values": [0,0.05,0.1,0.15,0.2,0.25,0.3], "labelExpr": "round(datum.value*100) % 10 == 0 ? format(datum.value, '~g') : ''", "title": ["STREAMFLOW,", "IN 10⁴ CFS"]}},
     "color": {"field": "s", "type": "nominal", "scale": {"domain": ["Parker", "Ipswich", "Charles"], "range": ["#00ff00", "#ff0000", "#0000ff"]}, "legend": {"title": null, "legendX": 72, "legendY": 9}}
    }},
   {"data": {"values": [{}]}, "mark": {"type": "point", "opacity": 0},
    "encoding": {"y": {"datum": 0, "type": "quantitative", "scale": {"domain": [0, 84], "nice": false}, "axis": {"orient": "right", "values": [0,14,28,42,56,70,84], "labelExpr": "datum.value % 28 == 0 ? datum.label : ''", "format": "d", "title": ["STREAMFLOW,", "IN M³/S"], "titleAngle": 270, "titlePadding": 19}}}}
  ],
  "resolve": {"scale": {"y": "independent"}}
 }
 ]
}
],
"config": {
 "font": "Liberation Sans",
 "view": {"stroke": "#000000", "strokeWidth": 1.5},
 "axis": {"domain": false, "grid": false, "ticks": true, "tickColor": "#000000", "tickWidth": 1.3, "tickSize": -15, "labelPadding": 23, "labelFont": "Liberation Sans", "labelFontSize": 21.5, "labelColor": "#000000", "labelFlush": false, "labelOverlap": false, "titleFont": "Liberation Sans", "titleFontSize": 21.5, "titleFontWeight": "normal", "titleColor": "#000000", "titlePadding": 14, "titleLineHeight": 29},
 "legend": {"orient": "none", "padding": 0, "symbolType": "M-2,0H2", "symbolSize": 462, "symbolStrokeWidth": 1.5, "symbolFillColor": "transparent", "labelFont": "Liberation Sans", "labelFontSize": 21.5, "labelColor": "#000000", "labelOffset": 30, "labelLimit": 500, "rowPadding": 0, "labelBaseline": "middle"},
 "title": {"font": "Liberation Sans", "fontSize": 21.5, "fontWeight": "bold", "fontStyle": "italic", "color": "#000000", "anchor": "start", "frame": "group", "dx": 33, "offset": -1, "subtitleFont": "Liberation Sans", "subtitleFontSize": 21.5, "subtitleFontWeight": "normal", "subtitleFontStyle": "normal", "subtitleColor": "#000000", "subtitlePadding": -21.5}
}
}
